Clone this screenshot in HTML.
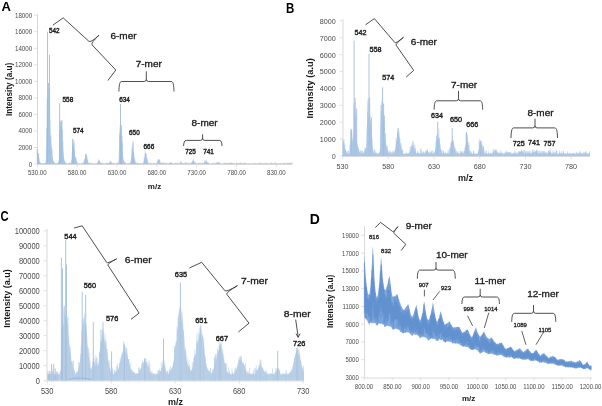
<!DOCTYPE html>
<html><head><meta charset="utf-8"><style>
html,body{margin:0;padding:0;background:#fff;width:602px;height:406px;overflow:hidden;position:relative}
</style></head><body>
<svg width="602" height="406" viewBox="0 0 602 406" style="position:absolute;left:0;top:0;filter:blur(0.35px)">
<g font-family='"Liberation Sans", sans-serif'>
<text x="0" y="0" font-size="13.6" font-weight="bold" fill="#000" transform="translate(1.5,10.6) scale(0.96,1)">A</text>
<text x="0" y="0" font-size="14.2" font-weight="bold" fill="#000" transform="translate(286.1,13.1) scale(0.81,1)">B</text>
<text x="0" y="0" font-size="14.6" font-weight="bold" fill="#000" transform="translate(0.45,221.1) scale(0.77,1)">C</text>
<text x="0" y="0" font-size="14.4" font-weight="bold" fill="#000" transform="translate(309.8,223.6) scale(0.97,1)">D</text>
<path d="M37.5,14.0 V164.0" stroke="#d9d9d9" stroke-width="1"/>
<path d="M37.0,164.5 H292.5" stroke="#d9d9d9" stroke-width="1"/>
<path d="M34.0,164.0 H37.0" stroke="#d9d9d9" stroke-width="0.8"/>
<text x="32.2" y="166.5" font-size="6.94" font-weight="normal" fill="#4a4a4a" text-anchor="end" textLength="3.45" lengthAdjust="spacingAndGlyphs" >0</text>
<path d="M34.0,147.5 H37.0" stroke="#d9d9d9" stroke-width="0.8"/>
<text x="32.2" y="150.0" font-size="6.94" font-weight="normal" fill="#4a4a4a" text-anchor="end" textLength="13.79" lengthAdjust="spacingAndGlyphs" >2000</text>
<path d="M34.0,130.9 H37.0" stroke="#d9d9d9" stroke-width="0.8"/>
<text x="32.2" y="133.4" font-size="6.94" font-weight="normal" fill="#4a4a4a" text-anchor="end" textLength="13.79" lengthAdjust="spacingAndGlyphs" >4000</text>
<path d="M34.0,114.4 H37.0" stroke="#d9d9d9" stroke-width="0.8"/>
<text x="32.2" y="116.9" font-size="6.94" font-weight="normal" fill="#4a4a4a" text-anchor="end" textLength="13.79" lengthAdjust="spacingAndGlyphs" >6000</text>
<path d="M34.0,97.9 H37.0" stroke="#d9d9d9" stroke-width="0.8"/>
<text x="32.2" y="100.4" font-size="6.94" font-weight="normal" fill="#4a4a4a" text-anchor="end" textLength="13.79" lengthAdjust="spacingAndGlyphs" >8000</text>
<path d="M34.0,81.3 H37.0" stroke="#d9d9d9" stroke-width="0.8"/>
<text x="32.2" y="83.8" font-size="6.94" font-weight="normal" fill="#4a4a4a" text-anchor="end" textLength="17.24" lengthAdjust="spacingAndGlyphs" >10000</text>
<path d="M34.0,64.8 H37.0" stroke="#d9d9d9" stroke-width="0.8"/>
<text x="32.2" y="67.3" font-size="6.94" font-weight="normal" fill="#4a4a4a" text-anchor="end" textLength="17.24" lengthAdjust="spacingAndGlyphs" >12000</text>
<path d="M34.0,48.3 H37.0" stroke="#d9d9d9" stroke-width="0.8"/>
<text x="32.2" y="50.8" font-size="6.94" font-weight="normal" fill="#4a4a4a" text-anchor="end" textLength="17.24" lengthAdjust="spacingAndGlyphs" >14000</text>
<path d="M34.0,31.7 H37.0" stroke="#d9d9d9" stroke-width="0.8"/>
<text x="32.2" y="34.2" font-size="6.94" font-weight="normal" fill="#4a4a4a" text-anchor="end" textLength="17.24" lengthAdjust="spacingAndGlyphs" >16000</text>
<path d="M34.0,15.2 H37.0" stroke="#d9d9d9" stroke-width="0.8"/>
<text x="32.2" y="17.7" font-size="6.94" font-weight="normal" fill="#4a4a4a" text-anchor="end" textLength="17.24" lengthAdjust="spacingAndGlyphs" >18000</text>
<path d="M37.3,164.0 V167.0" stroke="#d9d9d9" stroke-width="0.8"/>
<text x="37.3" y="175.2" font-size="6.83" font-weight="normal" fill="#4a4a4a" text-anchor="middle" textLength="18.66" lengthAdjust="spacingAndGlyphs" >530.00</text>
<path d="M77.2,164.0 V167.0" stroke="#d9d9d9" stroke-width="0.8"/>
<text x="77.2" y="175.2" font-size="6.83" font-weight="normal" fill="#4a4a4a" text-anchor="middle" textLength="18.66" lengthAdjust="spacingAndGlyphs" >580.00</text>
<path d="M117.0,164.0 V167.0" stroke="#d9d9d9" stroke-width="0.8"/>
<text x="117.0" y="175.2" font-size="6.83" font-weight="normal" fill="#4a4a4a" text-anchor="middle" textLength="18.66" lengthAdjust="spacingAndGlyphs" >630.00</text>
<path d="M156.9,164.0 V167.0" stroke="#d9d9d9" stroke-width="0.8"/>
<text x="156.9" y="175.2" font-size="6.83" font-weight="normal" fill="#4a4a4a" text-anchor="middle" textLength="18.66" lengthAdjust="spacingAndGlyphs" >680.00</text>
<path d="M196.7,164.0 V167.0" stroke="#d9d9d9" stroke-width="0.8"/>
<text x="196.7" y="175.2" font-size="6.83" font-weight="normal" fill="#4a4a4a" text-anchor="middle" textLength="18.66" lengthAdjust="spacingAndGlyphs" >730.00</text>
<path d="M236.6,164.0 V167.0" stroke="#d9d9d9" stroke-width="0.8"/>
<text x="236.6" y="175.2" font-size="6.83" font-weight="normal" fill="#4a4a4a" text-anchor="middle" textLength="18.66" lengthAdjust="spacingAndGlyphs" >780.00</text>
<path d="M276.4,164.0 V167.0" stroke="#d9d9d9" stroke-width="0.8"/>
<text x="276.4" y="175.2" font-size="6.83" font-weight="normal" fill="#4a4a4a" text-anchor="middle" textLength="18.66" lengthAdjust="spacingAndGlyphs" >830.00</text>
<text x="154.5" y="189.2" font-size="8" font-weight="bold" fill="#1a1a1a" text-anchor="middle" >m/z</text>
<text x="0" y="0" font-size="8.2" font-weight="bold" fill="#1a1a1a" text-anchor="middle" transform="translate(12.0,89.4) rotate(-90)">Intensity (a.u)</text>
<path d="M343.0,19.0 V156.0" stroke="#d9d9d9" stroke-width="1"/>
<path d="M342.5,156.5 H590.0" stroke="#d9d9d9" stroke-width="1"/>
<path d="M339.5,156.0 H342.5" stroke="#d9d9d9" stroke-width="0.8"/>
<text x="335.8" y="158.9" font-size="8.06" font-weight="normal" fill="#4a4a4a" text-anchor="end" textLength="4.00" lengthAdjust="spacingAndGlyphs" >0</text>
<path d="M339.5,139.1 H342.5" stroke="#d9d9d9" stroke-width="0.8"/>
<text x="335.8" y="142.0" font-size="8.06" font-weight="normal" fill="#4a4a4a" text-anchor="end" textLength="16.02" lengthAdjust="spacingAndGlyphs" >1000</text>
<path d="M339.5,122.2 H342.5" stroke="#d9d9d9" stroke-width="0.8"/>
<text x="335.8" y="125.1" font-size="8.06" font-weight="normal" fill="#4a4a4a" text-anchor="end" textLength="16.02" lengthAdjust="spacingAndGlyphs" >2000</text>
<path d="M339.5,105.3 H342.5" stroke="#d9d9d9" stroke-width="0.8"/>
<text x="335.8" y="108.2" font-size="8.06" font-weight="normal" fill="#4a4a4a" text-anchor="end" textLength="16.02" lengthAdjust="spacingAndGlyphs" >3000</text>
<path d="M339.5,88.4 H342.5" stroke="#d9d9d9" stroke-width="0.8"/>
<text x="335.8" y="91.3" font-size="8.06" font-weight="normal" fill="#4a4a4a" text-anchor="end" textLength="16.02" lengthAdjust="spacingAndGlyphs" >4000</text>
<path d="M339.5,71.5 H342.5" stroke="#d9d9d9" stroke-width="0.8"/>
<text x="335.8" y="74.4" font-size="8.06" font-weight="normal" fill="#4a4a4a" text-anchor="end" textLength="16.02" lengthAdjust="spacingAndGlyphs" >5000</text>
<path d="M339.5,54.6 H342.5" stroke="#d9d9d9" stroke-width="0.8"/>
<text x="335.8" y="57.5" font-size="8.06" font-weight="normal" fill="#4a4a4a" text-anchor="end" textLength="16.02" lengthAdjust="spacingAndGlyphs" >6000</text>
<path d="M339.5,37.7 H342.5" stroke="#d9d9d9" stroke-width="0.8"/>
<text x="335.8" y="40.6" font-size="8.06" font-weight="normal" fill="#4a4a4a" text-anchor="end" textLength="16.02" lengthAdjust="spacingAndGlyphs" >7000</text>
<path d="M339.5,20.8 H342.5" stroke="#d9d9d9" stroke-width="0.8"/>
<text x="335.8" y="23.7" font-size="8.06" font-weight="normal" fill="#4a4a4a" text-anchor="end" textLength="16.02" lengthAdjust="spacingAndGlyphs" >8000</text>
<path d="M342.6,156.0 V159.0" stroke="#d9d9d9" stroke-width="0.8"/>
<text x="342.6" y="169.2" font-size="8.06" font-weight="normal" fill="#4a4a4a" text-anchor="middle" textLength="12.01" lengthAdjust="spacingAndGlyphs" >530</text>
<path d="M388.3,156.0 V159.0" stroke="#d9d9d9" stroke-width="0.8"/>
<text x="388.3" y="169.2" font-size="8.06" font-weight="normal" fill="#4a4a4a" text-anchor="middle" textLength="12.01" lengthAdjust="spacingAndGlyphs" >580</text>
<path d="M434.0,156.0 V159.0" stroke="#d9d9d9" stroke-width="0.8"/>
<text x="434.0" y="169.2" font-size="8.06" font-weight="normal" fill="#4a4a4a" text-anchor="middle" textLength="12.01" lengthAdjust="spacingAndGlyphs" >630</text>
<path d="M479.7,156.0 V159.0" stroke="#d9d9d9" stroke-width="0.8"/>
<text x="479.7" y="169.2" font-size="8.06" font-weight="normal" fill="#4a4a4a" text-anchor="middle" textLength="12.01" lengthAdjust="spacingAndGlyphs" >680</text>
<path d="M525.4,156.0 V159.0" stroke="#d9d9d9" stroke-width="0.8"/>
<text x="525.4" y="169.2" font-size="8.06" font-weight="normal" fill="#4a4a4a" text-anchor="middle" textLength="12.01" lengthAdjust="spacingAndGlyphs" >730</text>
<path d="M571.1,156.0 V159.0" stroke="#d9d9d9" stroke-width="0.8"/>
<text x="571.1" y="169.2" font-size="8.06" font-weight="normal" fill="#4a4a4a" text-anchor="middle" textLength="12.01" lengthAdjust="spacingAndGlyphs" >780</text>
<text x="465.5" y="180.5" font-size="9" font-weight="bold" fill="#1a1a1a" text-anchor="middle" >m/z</text>
<text x="0" y="0" font-size="9.3" font-weight="bold" fill="#1a1a1a" text-anchor="middle" transform="translate(313,88.4) rotate(-90)">Intensity (a.u)</text>
<path d="M47.0,229.0 V380.5" stroke="#d9d9d9" stroke-width="1"/>
<path d="M46.5,381.0 H304.0" stroke="#d9d9d9" stroke-width="1"/>
<path d="M43.5,380.5 H46.5" stroke="#d9d9d9" stroke-width="0.8"/>
<text x="39.8" y="383.5" font-size="8.40" font-weight="normal" fill="#4a4a4a" text-anchor="end" textLength="4.17" lengthAdjust="spacingAndGlyphs" >0</text>
<path d="M43.5,365.5 H46.5" stroke="#d9d9d9" stroke-width="0.8"/>
<text x="39.8" y="368.6" font-size="8.40" font-weight="normal" fill="#4a4a4a" text-anchor="end" textLength="20.85" lengthAdjust="spacingAndGlyphs" >10000</text>
<path d="M43.5,350.6 H46.5" stroke="#d9d9d9" stroke-width="0.8"/>
<text x="39.8" y="353.6" font-size="8.40" font-weight="normal" fill="#4a4a4a" text-anchor="end" textLength="20.85" lengthAdjust="spacingAndGlyphs" >20000</text>
<path d="M43.5,335.6 H46.5" stroke="#d9d9d9" stroke-width="0.8"/>
<text x="39.8" y="338.6" font-size="8.40" font-weight="normal" fill="#4a4a4a" text-anchor="end" textLength="20.85" lengthAdjust="spacingAndGlyphs" >30000</text>
<path d="M43.5,320.7 H46.5" stroke="#d9d9d9" stroke-width="0.8"/>
<text x="39.8" y="323.7" font-size="8.40" font-weight="normal" fill="#4a4a4a" text-anchor="end" textLength="20.85" lengthAdjust="spacingAndGlyphs" >40000</text>
<path d="M43.5,305.7 H46.5" stroke="#d9d9d9" stroke-width="0.8"/>
<text x="39.8" y="308.7" font-size="8.40" font-weight="normal" fill="#4a4a4a" text-anchor="end" textLength="20.85" lengthAdjust="spacingAndGlyphs" >50000</text>
<path d="M43.5,290.7 H46.5" stroke="#d9d9d9" stroke-width="0.8"/>
<text x="39.8" y="293.8" font-size="8.40" font-weight="normal" fill="#4a4a4a" text-anchor="end" textLength="20.85" lengthAdjust="spacingAndGlyphs" >60000</text>
<path d="M43.5,275.8 H46.5" stroke="#d9d9d9" stroke-width="0.8"/>
<text x="39.8" y="278.8" font-size="8.40" font-weight="normal" fill="#4a4a4a" text-anchor="end" textLength="20.85" lengthAdjust="spacingAndGlyphs" >70000</text>
<path d="M43.5,260.8 H46.5" stroke="#d9d9d9" stroke-width="0.8"/>
<text x="39.8" y="263.8" font-size="8.40" font-weight="normal" fill="#4a4a4a" text-anchor="end" textLength="20.85" lengthAdjust="spacingAndGlyphs" >80000</text>
<path d="M43.5,245.9 H46.5" stroke="#d9d9d9" stroke-width="0.8"/>
<text x="39.8" y="248.9" font-size="8.40" font-weight="normal" fill="#4a4a4a" text-anchor="end" textLength="20.85" lengthAdjust="spacingAndGlyphs" >90000</text>
<path d="M43.5,230.9 H46.5" stroke="#d9d9d9" stroke-width="0.8"/>
<text x="39.8" y="233.9" font-size="8.40" font-weight="normal" fill="#4a4a4a" text-anchor="end" textLength="25.02" lengthAdjust="spacingAndGlyphs" >100000</text>
<path d="M47.2,380.5 V383.5" stroke="#d9d9d9" stroke-width="0.8"/>
<text x="47.2" y="394.0" font-size="8.40" font-weight="normal" fill="#4a4a4a" text-anchor="middle" textLength="12.51" lengthAdjust="spacingAndGlyphs" >530</text>
<path d="M111.2,380.5 V383.5" stroke="#d9d9d9" stroke-width="0.8"/>
<text x="111.2" y="394.0" font-size="8.40" font-weight="normal" fill="#4a4a4a" text-anchor="middle" textLength="12.51" lengthAdjust="spacingAndGlyphs" >580</text>
<path d="M175.2,380.5 V383.5" stroke="#d9d9d9" stroke-width="0.8"/>
<text x="175.2" y="394.0" font-size="8.40" font-weight="normal" fill="#4a4a4a" text-anchor="middle" textLength="12.51" lengthAdjust="spacingAndGlyphs" >630</text>
<path d="M239.2,380.5 V383.5" stroke="#d9d9d9" stroke-width="0.8"/>
<text x="239.2" y="394.0" font-size="8.40" font-weight="normal" fill="#4a4a4a" text-anchor="middle" textLength="12.51" lengthAdjust="spacingAndGlyphs" >680</text>
<path d="M303.2,380.5 V383.5" stroke="#d9d9d9" stroke-width="0.8"/>
<text x="303.2" y="394.0" font-size="8.40" font-weight="normal" fill="#4a4a4a" text-anchor="middle" textLength="12.51" lengthAdjust="spacingAndGlyphs" >730</text>
<text x="175.4" y="405.2" font-size="9" font-weight="bold" fill="#1a1a1a" text-anchor="middle" >m/z</text>
<text x="0" y="0" font-size="9.0" font-weight="bold" fill="#1a1a1a" text-anchor="middle" transform="translate(10.2,298.5) rotate(-90)">Intensity (a.u)</text>
<path d="M364.5,226.0 V377.5" stroke="#d9d9d9" stroke-width="1"/>
<path d="M364.0,378.0 H592.0" stroke="#d9d9d9" stroke-width="1"/>
<path d="M361.0,377.5 H364.0" stroke="#d9d9d9" stroke-width="0.8"/>
<text x="358.8" y="379.9" font-size="6.72" font-weight="normal" fill="#4a4a4a" text-anchor="end" textLength="13.35" lengthAdjust="spacingAndGlyphs" >3000</text>
<path d="M361.0,359.7 H364.0" stroke="#d9d9d9" stroke-width="0.8"/>
<text x="358.8" y="362.2" font-size="6.72" font-weight="normal" fill="#4a4a4a" text-anchor="end" textLength="13.35" lengthAdjust="spacingAndGlyphs" >5000</text>
<path d="M361.0,342.0 H364.0" stroke="#d9d9d9" stroke-width="0.8"/>
<text x="358.8" y="344.4" font-size="6.72" font-weight="normal" fill="#4a4a4a" text-anchor="end" textLength="13.35" lengthAdjust="spacingAndGlyphs" >7000</text>
<path d="M361.0,324.2 H364.0" stroke="#d9d9d9" stroke-width="0.8"/>
<text x="358.8" y="326.6" font-size="6.72" font-weight="normal" fill="#4a4a4a" text-anchor="end" textLength="13.35" lengthAdjust="spacingAndGlyphs" >9000</text>
<path d="M361.0,306.4 H364.0" stroke="#d9d9d9" stroke-width="0.8"/>
<text x="358.8" y="308.9" font-size="6.72" font-weight="normal" fill="#4a4a4a" text-anchor="end" textLength="16.24" lengthAdjust="spacingAndGlyphs" >11000</text>
<path d="M361.0,288.7 H364.0" stroke="#d9d9d9" stroke-width="0.8"/>
<text x="358.8" y="291.1" font-size="6.72" font-weight="normal" fill="#4a4a4a" text-anchor="end" textLength="16.68" lengthAdjust="spacingAndGlyphs" >13000</text>
<path d="M361.0,270.9 H364.0" stroke="#d9d9d9" stroke-width="0.8"/>
<text x="358.8" y="273.3" font-size="6.72" font-weight="normal" fill="#4a4a4a" text-anchor="end" textLength="16.68" lengthAdjust="spacingAndGlyphs" >15000</text>
<path d="M361.0,253.2 H364.0" stroke="#d9d9d9" stroke-width="0.8"/>
<text x="358.8" y="255.6" font-size="6.72" font-weight="normal" fill="#4a4a4a" text-anchor="end" textLength="16.68" lengthAdjust="spacingAndGlyphs" >17000</text>
<path d="M361.0,235.4 H364.0" stroke="#d9d9d9" stroke-width="0.8"/>
<text x="358.8" y="237.8" font-size="6.72" font-weight="normal" fill="#4a4a4a" text-anchor="end" textLength="16.68" lengthAdjust="spacingAndGlyphs" >19000</text>
<path d="M364.0,377.5 V380.5" stroke="#d9d9d9" stroke-width="0.8"/>
<text x="364.0" y="388.6" font-size="6.72" font-weight="normal" fill="#4a4a4a" text-anchor="middle" textLength="18.35" lengthAdjust="spacingAndGlyphs" >800.00</text>
<path d="M392.3,377.5 V380.5" stroke="#d9d9d9" stroke-width="0.8"/>
<text x="392.3" y="388.6" font-size="6.72" font-weight="normal" fill="#4a4a4a" text-anchor="middle" textLength="18.35" lengthAdjust="spacingAndGlyphs" >850.00</text>
<path d="M420.6,377.5 V380.5" stroke="#d9d9d9" stroke-width="0.8"/>
<text x="420.6" y="388.6" font-size="6.72" font-weight="normal" fill="#4a4a4a" text-anchor="middle" textLength="18.35" lengthAdjust="spacingAndGlyphs" >900.00</text>
<path d="M448.9,377.5 V380.5" stroke="#d9d9d9" stroke-width="0.8"/>
<text x="448.9" y="388.6" font-size="6.72" font-weight="normal" fill="#4a4a4a" text-anchor="middle" textLength="18.35" lengthAdjust="spacingAndGlyphs" >950.00</text>
<path d="M477.3,377.5 V380.5" stroke="#d9d9d9" stroke-width="0.8"/>
<text x="477.3" y="388.6" font-size="6.72" font-weight="normal" fill="#4a4a4a" text-anchor="middle" textLength="21.69" lengthAdjust="spacingAndGlyphs" >1000.00</text>
<path d="M505.6,377.5 V380.5" stroke="#d9d9d9" stroke-width="0.8"/>
<text x="505.6" y="388.6" font-size="6.72" font-weight="normal" fill="#4a4a4a" text-anchor="middle" textLength="21.69" lengthAdjust="spacingAndGlyphs" >1050.00</text>
<path d="M533.9,377.5 V380.5" stroke="#d9d9d9" stroke-width="0.8"/>
<text x="533.9" y="388.6" font-size="6.72" font-weight="normal" fill="#4a4a4a" text-anchor="middle" textLength="21.24" lengthAdjust="spacingAndGlyphs" >1100.00</text>
<path d="M562.2,377.5 V380.5" stroke="#d9d9d9" stroke-width="0.8"/>
<text x="562.2" y="388.6" font-size="6.72" font-weight="normal" fill="#4a4a4a" text-anchor="middle" textLength="21.24" lengthAdjust="spacingAndGlyphs" >1150.00</text>
<path d="M590.5,377.5 V380.5" stroke="#d9d9d9" stroke-width="0.8"/>
<text x="590.5" y="388.6" font-size="6.72" font-weight="normal" fill="#4a4a4a" text-anchor="middle" textLength="21.69" lengthAdjust="spacingAndGlyphs" >1200.00</text>
<text x="468.6" y="400.5" font-size="8" font-weight="bold" fill="#1a1a1a" text-anchor="middle" >m/z</text>
<text x="0" y="0" font-size="8.2" font-weight="bold" fill="#1a1a1a" text-anchor="middle" transform="translate(333.3,301.4) rotate(-90)">Intensity (a.u)</text>
<path d="M37.20,164.00 L37.20,153.24 L37.40,152.34 L37.60,148.98 L37.80,152.39 L38.00,156.25 L38.20,156.22 L38.40,157.27 L38.60,159.13 L38.80,158.62 L39.00,160.60 L39.20,160.68 L39.40,161.03 L39.60,161.58 L39.80,161.80 L40.00,162.02 L40.20,162.17 L40.40,162.84 L40.60,162.84 L40.80,163.00 L41.00,163.29 L41.20,163.49 L41.40,163.30 L41.60,163.47 L41.80,163.47 L42.00,163.32 L42.20,163.40 L42.40,163.43 L42.60,163.35 L42.80,163.54 L43.00,163.37 L43.20,163.45 L43.40,163.53 L43.60,163.38 L43.80,163.31 L44.00,163.50 L44.20,163.39 L44.40,163.47 L44.60,163.36 L44.80,163.36 L45.00,163.49 L45.20,163.28 L45.40,163.11 L45.60,162.83 L45.80,162.40 L46.00,162.27 L46.20,161.49 L46.40,150.62 L46.60,135.83 L46.80,97.82 L47.00,98.66 L47.20,96.01 L47.40,106.31 L47.60,89.26 L47.80,101.81 L48.00,83.93 L48.20,102.32 L48.40,93.48 L48.60,98.48 L48.80,91.90 L49.00,104.75 L49.20,105.26 L49.40,87.76 L49.60,87.60 L49.80,93.32 L50.00,90.97 L50.20,121.35 L50.40,118.42 L50.60,137.17 L50.80,132.87 L51.00,140.99 L51.20,144.66 L51.40,145.07 L51.60,149.07 L51.80,150.69 L52.00,155.59 L52.20,155.25 L52.40,157.41 L52.60,157.97 L52.80,158.81 L53.00,158.17 L53.20,160.52 L53.40,160.88 L53.60,161.21 L53.80,161.40 L54.00,161.84 L54.20,162.34 L54.40,162.88 L54.60,162.89 L54.80,163.00 L55.00,163.38 L55.20,163.29 L55.40,163.46 L55.60,163.40 L55.80,163.38 L56.00,163.38 L56.20,163.42 L56.40,163.41 L56.60,163.50 L56.80,163.42 L57.00,163.52 L57.20,163.43 L57.40,163.41 L57.60,163.16 L57.80,163.05 L58.00,162.98 L58.20,162.29 L58.40,162.13 L58.60,161.01 L58.80,160.83 L59.00,150.23 L59.20,129.54 L59.40,129.38 L59.60,130.10 L59.80,130.11 L60.00,127.94 L60.20,134.28 L60.40,126.86 L60.60,120.73 L60.80,126.60 L61.00,123.63 L61.20,120.31 L61.40,122.03 L61.60,123.63 L61.80,122.50 L62.00,122.39 L62.20,131.66 L62.40,132.16 L62.60,140.77 L62.80,146.62 L63.00,144.37 L63.20,150.02 L63.40,151.16 L63.60,153.88 L63.80,157.57 L64.00,157.90 L64.20,159.24 L64.40,159.61 L64.60,161.38 L64.80,161.81 L65.00,161.93 L65.20,162.42 L65.40,162.58 L65.60,163.02 L65.80,163.27 L66.00,163.19 L66.20,163.49 L66.40,163.51 L66.60,163.48 L66.80,163.46 L67.00,163.49 L67.20,163.41 L67.40,163.31 L67.60,163.52 L67.80,163.44 L68.00,163.38 L68.20,163.32 L68.40,163.29 L68.60,163.51 L68.80,163.41 L69.00,163.32 L69.20,163.54 L69.40,163.40 L69.60,163.51 L69.80,163.35 L70.00,163.31 L70.20,163.41 L70.40,163.47 L70.60,163.27 L70.80,162.85 L71.00,162.21 L71.20,162.27 L71.40,161.36 L71.60,159.45 L71.80,155.50 L72.00,148.43 L72.20,146.63 L72.40,146.08 L72.60,142.72 L72.80,145.03 L73.00,142.56 L73.20,144.85 L73.40,147.90 L73.60,145.47 L73.80,141.80 L74.00,144.43 L74.20,141.01 L74.40,149.25 L74.60,150.26 L74.80,151.07 L75.00,154.27 L75.20,156.43 L75.40,156.90 L75.60,157.16 L75.80,158.50 L76.00,159.57 L76.20,160.25 L76.40,160.76 L76.60,161.74 L76.80,161.89 L77.00,162.38 L77.20,162.65 L77.40,163.10 L77.60,163.46 L77.80,163.41 L78.00,163.33 L78.20,163.38 L78.40,163.38 L78.60,163.45 L78.80,163.46 L79.00,163.36 L79.20,163.53 L79.40,163.33 L79.60,163.32 L79.80,163.30 L80.00,163.52 L80.20,163.52 L80.40,163.32 L80.60,163.45 L80.80,163.48 L81.00,163.45 L81.20,163.38 L81.40,163.51 L81.60,163.42 L81.80,163.38 L82.00,163.36 L82.20,163.55 L82.40,163.34 L82.60,163.44 L82.80,163.44 L83.00,163.41 L83.20,163.48 L83.40,163.02 L83.60,162.97 L83.80,162.34 L84.00,162.15 L84.20,161.02 L84.40,159.77 L84.60,158.84 L84.80,159.59 L85.00,157.51 L85.20,155.82 L85.40,157.37 L85.60,156.10 L85.80,154.62 L86.00,154.39 L86.20,155.60 L86.40,155.14 L86.60,155.46 L86.80,157.09 L87.00,156.78 L87.20,157.73 L87.40,158.21 L87.60,159.40 L87.80,160.42 L88.00,160.90 L88.20,160.92 L88.40,162.23 L88.60,162.65 L88.80,163.05 L89.00,162.94 L89.20,163.18 L89.40,163.49 L89.60,163.48 L89.80,163.50 L90.00,163.40 L90.20,163.43 L90.40,163.34 L90.60,163.50 L90.80,163.32 L91.00,163.43 L91.20,163.34 L91.40,163.34 L91.60,163.31 L91.80,163.42 L92.00,163.39 L92.20,163.41 L92.40,163.50 L92.60,163.42 L92.80,163.31 L93.00,163.31 L93.20,163.55 L93.40,163.38 L93.60,163.47 L93.80,163.52 L94.00,163.52 L94.20,163.34 L94.40,163.30 L94.60,163.42 L94.80,163.45 L95.00,163.42 L95.20,163.34 L95.40,163.36 L95.60,163.53 L95.80,163.50 L96.00,163.33 L96.20,163.42 L96.40,163.38 L96.60,163.35 L96.80,163.23 L97.00,162.92 L97.20,162.70 L97.40,162.58 L97.60,162.30 L97.80,161.13 L98.00,161.89 L98.20,160.72 L98.40,160.18 L98.60,160.99 L98.80,161.23 L99.00,160.73 L99.20,160.95 L99.40,160.95 L99.60,161.24 L99.80,160.94 L100.00,162.16 L100.20,161.73 L100.40,162.75 L100.60,162.47 L100.80,163.07 L101.00,163.14 L101.20,163.54 L101.40,163.44 L101.60,163.38 L101.80,163.39 L102.00,163.34 L102.20,163.51 L102.40,163.45 L102.60,163.39 L102.80,163.54 L103.00,163.33 L103.20,163.44 L103.40,163.49 L103.60,163.49 L103.80,163.38 L104.00,163.54 L104.20,163.49 L104.40,163.47 L104.60,163.48 L104.80,163.36 L105.00,163.40 L105.20,163.32 L105.40,163.37 L105.60,163.47 L105.80,163.47 L106.00,163.52 L106.20,163.49 L106.40,163.39 L106.60,163.36 L106.80,163.47 L107.00,163.46 L107.20,163.34 L107.40,163.30 L107.60,163.53 L107.80,163.53 L108.00,163.35 L108.20,163.42 L108.40,163.44 L108.60,163.39 L108.80,163.35 L109.00,163.53 L109.20,163.22 L109.40,162.79 L109.60,162.62 L109.80,162.12 L110.00,161.91 L110.20,161.28 L110.40,161.63 L110.60,161.31 L110.80,161.11 L111.00,161.87 L111.20,161.99 L111.40,162.83 L111.60,162.82 L111.80,163.42 L112.00,163.50 L112.20,163.36 L112.40,163.47 L112.60,163.52 L112.80,163.53 L113.00,163.34 L113.20,163.55 L113.40,163.54 L113.60,163.31 L113.80,163.35 L114.00,163.46 L114.20,163.50 L114.40,163.33 L114.60,163.35 L114.80,163.38 L115.00,163.41 L115.20,163.41 L115.40,163.30 L115.60,163.42 L115.80,163.53 L116.00,163.53 L116.20,163.40 L116.40,163.36 L116.60,163.39 L116.80,163.36 L117.00,163.47 L117.20,163.45 L117.40,163.48 L117.60,163.45 L117.80,163.48 L118.00,163.19 L118.20,163.19 L118.40,162.89 L118.60,162.16 L118.80,154.54 L119.00,145.58 L119.20,127.89 L119.40,123.13 L119.60,133.67 L119.80,134.66 L120.00,129.40 L120.20,128.12 L120.40,131.67 L120.60,127.85 L120.80,126.50 L121.00,124.36 L121.20,133.31 L121.40,127.01 L121.60,136.18 L121.80,136.08 L122.00,139.49 L122.20,144.26 L122.40,143.06 L122.60,150.30 L122.80,151.20 L123.00,154.22 L123.20,157.24 L123.40,159.17 L123.60,159.95 L123.80,159.73 L124.00,161.34 L124.20,161.85 L124.40,162.45 L124.60,162.50 L124.80,162.85 L125.00,163.22 L125.20,163.36 L125.40,163.45 L125.60,163.40 L125.80,163.40 L126.00,163.40 L126.20,163.32 L126.40,163.30 L126.60,163.54 L126.80,163.45 L127.00,163.54 L127.20,163.45 L127.40,163.34 L127.60,163.37 L127.80,163.40 L128.00,163.53 L128.20,163.34 L128.40,163.39 L128.60,163.47 L128.80,163.35 L129.00,163.54 L129.20,163.50 L129.40,163.35 L129.60,163.54 L129.80,163.49 L130.00,163.17 L130.20,162.79 L130.40,162.49 L130.60,162.53 L130.80,161.84 L131.00,158.74 L131.20,157.28 L131.40,155.70 L131.60,154.67 L131.80,152.19 L132.00,148.21 L132.20,153.45 L132.40,150.46 L132.60,148.33 L132.80,149.58 L133.00,152.08 L133.20,149.89 L133.40,153.04 L133.60,150.78 L133.80,152.18 L134.00,151.96 L134.20,154.66 L134.40,157.02 L134.60,159.41 L134.80,159.44 L135.00,159.82 L135.20,161.28 L135.40,161.58 L135.60,162.35 L135.80,162.72 L136.00,162.66 L136.20,163.24 L136.40,163.25 L136.60,163.52 L136.80,163.38 L137.00,163.36 L137.20,163.31 L137.40,163.45 L137.60,163.45 L137.80,163.45 L138.00,163.37 L138.20,163.35 L138.40,163.52 L138.60,163.47 L138.80,163.54 L139.00,163.49 L139.20,163.36 L139.40,163.31 L139.60,163.30 L139.80,163.53 L140.00,163.45 L140.20,163.32 L140.40,163.42 L140.60,163.46 L140.80,163.35 L141.00,163.33 L141.20,163.51 L141.40,163.42 L141.60,163.51 L141.80,163.50 L142.00,163.41 L142.20,163.49 L142.40,163.34 L142.60,163.46 L142.80,163.50 L143.00,163.16 L143.20,162.97 L143.40,162.69 L143.60,161.28 L143.80,161.48 L144.00,160.85 L144.20,159.34 L144.40,159.60 L144.60,156.51 L144.80,157.93 L145.00,157.46 L145.20,153.38 L145.40,154.87 L145.60,153.18 L145.80,153.55 L146.00,154.62 L146.20,157.74 L146.40,156.26 L146.60,158.77 L146.80,159.56 L147.00,158.37 L147.20,160.27 L147.40,160.28 L147.60,161.28 L147.80,161.63 L148.00,162.29 L148.20,162.54 L148.40,163.12 L148.60,163.26 L148.80,163.34 L149.00,163.40 L149.20,163.42 L149.40,163.44 L149.60,163.38 L149.80,163.50 L150.00,163.44 L150.20,163.38 L150.40,163.47 L150.60,163.50 L150.80,163.52 L151.00,163.34 L151.20,163.32 L151.40,163.33 L151.60,163.37 L151.80,163.39 L152.00,163.54 L152.20,163.32 L152.40,163.43 L152.60,163.37 L152.80,163.52 L153.00,163.36 L153.20,163.51 L153.40,163.30 L153.60,163.37 L153.80,163.41 L154.00,163.38 L154.20,163.49 L154.40,163.42 L154.60,163.53 L154.80,163.48 L155.00,163.48 L155.20,163.51 L155.40,163.44 L155.60,163.54 L155.80,163.54 L156.00,163.46 L156.20,163.06 L156.40,162.84 L156.60,162.66 L156.80,162.46 L157.00,162.16 L157.20,161.42 L157.40,160.65 L157.60,159.93 L157.80,160.17 L158.00,159.19 L158.20,159.12 L158.40,159.04 L158.60,160.12 L158.80,160.05 L159.00,160.82 L159.20,160.43 L159.40,161.56 L159.60,161.35 L159.80,162.04 L160.00,162.09 L160.20,162.65 L160.40,163.02 L160.60,163.04 L160.80,163.26 L161.00,163.41 L161.20,163.52 L161.40,163.42 L161.60,163.47 L161.80,163.53 L162.00,163.44 L162.20,163.38 L162.40,163.47 L162.60,163.37 L162.80,163.35 L163.00,163.55 L163.20,163.50 L163.40,163.48 L163.60,163.40 L163.80,163.42 L164.00,163.40 L164.20,163.53 L164.40,163.48 L164.60,163.51 L164.80,163.36 L165.00,163.37 L165.20,163.47 L165.40,163.32 L165.60,163.52 L165.80,163.55 L166.00,163.45 L166.20,163.38 L166.40,163.31 L166.60,163.42 L166.80,163.52 L167.00,163.40 L167.20,163.55 L167.40,163.34 L167.60,163.47 L167.80,163.53 L168.00,163.51 L168.20,163.34 L168.40,163.32 L168.60,163.50 L168.80,163.29 L169.00,163.33 L169.20,163.36 L169.40,163.30 L169.60,163.11 L169.80,162.79 L170.00,162.78 L170.20,162.68 L170.40,162.54 L170.60,162.07 L170.80,162.70 L171.00,162.11 L171.20,162.52 L171.40,162.44 L171.60,162.71 L171.80,162.62 L172.00,163.13 L172.20,163.22 L172.40,163.26 L172.60,163.39 L172.80,163.47 L173.00,163.47 L173.20,163.53 L173.40,163.42 L173.60,163.34 L173.80,163.33 L174.00,163.44 L174.20,163.30 L174.40,163.30 L174.60,163.47 L174.80,163.52 L175.00,163.33 L175.20,163.31 L175.40,163.38 L175.60,163.30 L175.80,163.43 L176.00,163.42 L176.20,163.53 L176.40,163.46 L176.60,163.31 L176.80,163.52 L177.00,163.52 L177.20,163.54 L177.40,163.42 L177.60,163.39 L177.80,163.41 L178.00,163.32 L178.20,163.37 L178.40,163.39 L178.60,163.39 L178.80,163.42 L179.00,163.53 L179.20,163.53 L179.40,163.38 L179.60,163.50 L179.80,163.44 L180.00,163.38 L180.20,163.40 L180.40,163.27 L180.60,162.52 L180.80,161.92 L181.00,160.45 L181.20,161.27 L181.40,162.62 L181.60,163.26 L181.80,163.51 L182.00,163.39 L182.20,163.47 L182.40,163.33 L182.60,163.48 L182.80,163.38 L183.00,163.39 L183.20,163.31 L183.40,163.36 L183.60,163.31 L183.80,163.40 L184.00,163.55 L184.20,163.47 L184.40,163.36 L184.60,163.46 L184.80,163.38 L185.00,163.52 L185.20,163.38 L185.40,163.45 L185.60,163.31 L185.80,163.53 L186.00,163.46 L186.20,163.35 L186.40,163.45 L186.60,163.43 L186.80,163.46 L187.00,163.53 L187.20,163.47 L187.40,163.32 L187.60,163.35 L187.80,163.47 L188.00,163.38 L188.20,163.34 L188.40,163.34 L188.60,163.54 L188.80,163.51 L189.00,163.30 L189.20,163.48 L189.40,163.35 L189.60,163.39 L189.80,163.32 L190.00,163.53 L190.20,163.31 L190.40,163.32 L190.60,163.49 L190.80,163.37 L191.00,163.55 L191.20,163.30 L191.40,163.19 L191.60,162.74 L191.80,162.31 L192.00,162.52 L192.20,161.33 L192.40,161.80 L192.60,161.44 L192.80,160.75 L193.00,160.90 L193.20,160.21 L193.40,160.97 L193.60,160.40 L193.80,160.37 L194.00,160.34 L194.20,161.36 L194.40,161.76 L194.60,161.75 L194.80,162.00 L195.00,162.12 L195.20,162.64 L195.40,162.97 L195.60,163.23 L195.80,163.28 L196.00,163.39 L196.20,163.53 L196.40,163.47 L196.60,163.51 L196.80,163.42 L197.00,163.45 L197.20,163.51 L197.40,163.41 L197.60,163.38 L197.80,163.46 L198.00,163.33 L198.20,163.53 L198.40,163.54 L198.60,163.37 L198.80,163.40 L199.00,163.36 L199.20,163.31 L199.40,163.42 L199.60,163.34 L199.80,163.38 L200.00,163.42 L200.20,163.42 L200.40,163.29 L200.60,163.46 L200.80,163.44 L201.00,163.43 L201.20,163.38 L201.40,163.54 L201.60,163.38 L201.80,163.54 L202.00,163.45 L202.20,163.44 L202.40,163.40 L202.60,163.40 L202.80,163.39 L203.00,163.55 L203.20,163.47 L203.40,163.36 L203.60,163.44 L203.80,163.34 L204.00,163.22 L204.20,162.93 L204.40,162.54 L204.60,161.93 L204.80,162.39 L205.00,161.99 L205.20,161.76 L205.40,161.39 L205.60,161.52 L205.80,160.07 L206.00,161.31 L206.20,160.94 L206.40,160.55 L206.60,161.28 L206.80,161.78 L207.00,161.96 L207.20,162.09 L207.40,162.45 L207.60,162.58 L207.80,162.86 L208.00,163.22 L208.20,163.11 L208.40,163.28 L208.60,163.41 L208.80,163.53 L209.00,163.31 L209.20,163.46 L209.40,163.45 L209.60,163.49 L209.80,163.31 L210.00,163.37 L210.20,163.47 L210.40,163.46 L210.60,163.44 L210.80,163.45 L211.00,163.38 L211.20,163.30 L211.40,163.54 L211.60,163.33 L211.80,163.33 L212.00,163.49 L212.20,163.30 L212.40,163.32 L212.60,163.36 L212.80,163.52 L213.00,163.44 L213.20,163.35 L213.40,163.41 L213.60,163.54 L213.80,163.35 L214.00,163.44 L214.20,163.49 L214.40,163.46 L214.60,163.52 L214.80,163.46 L215.00,163.55 L215.20,163.29 L215.40,163.52 L215.60,163.46 L215.80,163.47 L216.00,163.43 L216.20,163.46 L216.40,163.29 L216.60,163.33 L216.80,162.82 L217.00,162.90 L217.20,162.38 L217.40,162.63 L217.60,162.71 L217.80,162.11 L218.00,162.60 L218.20,162.20 L218.40,162.16 L218.60,162.70 L218.80,162.72 L219.00,162.68 L219.20,162.64 L219.40,162.80 L219.60,163.10 L219.80,163.19 L220.00,163.24 L220.20,163.51 L220.40,163.31 L220.60,163.33 L220.80,163.49 L221.00,163.39 L221.20,163.36 L221.40,163.38 L221.60,163.53 L221.80,163.54 L222.00,163.49 L222.20,163.52 L222.40,163.43 L222.60,163.36 L222.80,163.40 L223.00,163.32 L223.20,163.42 L223.40,163.43 L223.60,163.52 L223.80,163.30 L224.00,163.38 L224.20,163.30 L224.40,163.31 L224.60,163.53 L224.80,163.39 L225.00,163.42 L225.20,163.36 L225.40,163.54 L225.60,163.38 L225.80,163.39 L226.00,163.45 L226.20,163.52 L226.40,163.37 L226.60,163.54 L226.80,163.46 L227.00,163.54 L227.20,163.47 L227.40,163.49 L227.60,163.39 L227.80,163.37 L228.00,163.37 L228.20,163.44 L228.40,163.36 L228.60,163.38 L228.80,163.41 L229.00,163.35 L229.20,163.21 L229.40,163.25 L229.60,162.96 L229.80,162.98 L230.00,163.00 L230.20,162.88 L230.40,162.73 L230.60,162.87 L230.80,162.52 L231.00,162.83 L231.20,162.73 L231.40,162.66 L231.60,162.75 L231.80,162.91 L232.00,162.99 L232.20,163.08 L232.40,163.24 L232.60,163.38 L232.80,163.32 L233.00,163.51 L233.20,163.52 L233.40,163.47 L233.60,163.49 L233.80,163.30 L234.00,163.41 L234.20,163.32 L234.40,163.41 L234.60,163.49 L234.80,163.32 L235.00,163.32 L235.20,163.52 L235.40,163.35 L235.60,163.40 L235.80,163.50 L236.00,163.46 L236.20,163.36 L236.40,163.50 L236.60,163.39 L236.80,163.41 L237.00,163.41 L237.20,163.50 L237.40,163.34 L237.60,163.41 L237.80,163.37 L238.00,163.39 L238.20,163.47 L238.40,163.36 L238.60,163.45 L238.80,163.31 L239.00,163.43 L239.20,163.50 L239.40,163.43 L239.60,163.45 L239.80,163.30 L240.00,163.47 L240.20,163.32 L240.40,163.54 L240.60,163.52 L240.80,163.47 L241.00,163.36 L241.20,163.39 L241.40,163.44 L241.60,163.44 L241.80,163.33 L242.00,163.47 L242.20,163.28 L242.40,163.38 L242.60,163.28 L242.80,163.25 L243.00,163.38 L243.20,163.47 L243.40,163.49 L243.60,163.49 L243.80,163.53 L244.00,163.44 L244.20,163.38 L244.40,163.45 L244.60,163.30 L244.80,163.31 L245.00,163.35 L245.20,163.34 L245.40,163.47 L245.60,163.35 L245.80,163.54 L246.00,163.55 L246.20,163.53 L246.40,163.47 L246.60,163.36 L246.80,163.54 L247.00,163.45 L247.20,163.40 L247.40,163.33 L247.60,163.40 L247.80,163.49 L248.00,163.53 L248.20,163.42 L248.40,163.34 L248.60,163.33 L248.80,163.39 L249.00,163.50 L249.20,163.53 L249.40,163.54 L249.60,163.48 L249.80,163.41 L250.00,163.51 L250.20,163.39 L250.40,163.47 L250.60,163.35 L250.80,163.41 L251.00,163.35 L251.20,163.48 L251.40,163.40 L251.60,163.32 L251.80,163.55 L252.00,163.31 L252.20,163.40 L252.40,163.29 L252.60,163.48 L252.80,163.42 L253.00,163.37 L253.20,163.40 L253.40,163.39 L253.60,163.33 L253.80,163.51 L254.00,163.36 L254.20,163.44 L254.40,163.31 L254.60,163.30 L254.80,163.44 L255.00,163.46 L255.20,163.32 L255.40,163.31 L255.60,163.35 L255.80,163.32 L256.00,163.30 L256.20,163.43 L256.40,163.46 L256.60,163.54 L256.80,163.44 L257.00,163.49 L257.20,163.36 L257.40,163.39 L257.60,163.31 L257.80,163.37 L258.00,163.49 L258.20,163.45 L258.40,163.42 L258.60,163.41 L258.80,163.31 L259.00,163.39 L259.20,163.47 L259.40,163.48 L259.60,163.40 L259.80,163.53 L260.00,163.43 L260.20,163.32 L260.40,163.31 L260.60,163.41 L260.80,163.41 L261.00,163.47 L261.20,163.40 L261.40,163.43 L261.60,163.38 L261.80,163.30 L262.00,163.35 L262.20,163.52 L262.40,163.51 L262.60,163.37 L262.80,163.30 L263.00,163.40 L263.20,163.33 L263.40,163.48 L263.60,163.49 L263.80,163.30 L264.00,163.32 L264.20,163.43 L264.40,163.34 L264.60,163.38 L264.80,163.35 L265.00,163.40 L265.20,163.37 L265.40,163.31 L265.60,163.44 L265.80,163.36 L266.00,163.30 L266.20,163.54 L266.40,163.49 L266.60,163.46 L266.80,163.40 L267.00,163.43 L267.20,163.31 L267.40,163.50 L267.60,163.47 L267.80,163.53 L268.00,163.51 L268.20,163.40 L268.40,163.54 L268.60,163.31 L268.80,163.35 L269.00,163.53 L269.20,163.35 L269.40,163.52 L269.60,163.42 L269.80,163.50 L270.00,163.51 L270.20,163.41 L270.40,163.32 L270.60,163.53 L270.80,163.50 L271.00,163.43 L271.20,163.30 L271.40,163.46 L271.60,163.33 L271.80,163.41 L272.00,163.43 L272.20,163.35 L272.40,163.50 L272.60,163.41 L272.80,163.54 L273.00,163.42 L273.20,163.29 L273.40,163.53 L273.60,163.53 L273.80,163.40 L274.00,163.31 L274.20,163.41 L274.40,163.30 L274.60,163.47 L274.80,163.29 L275.00,163.50 L275.20,163.35 L275.40,163.46 L275.60,163.33 L275.80,163.54 L276.00,163.47 L276.20,163.31 L276.40,163.35 L276.60,163.43 L276.80,163.45 L277.00,163.31 L277.20,163.50 L277.40,163.50 L277.60,163.54 L277.80,163.38 L278.00,163.31 L278.20,163.52 L278.40,163.35 L278.60,163.35 L278.80,163.50 L279.00,163.42 L279.20,163.40 L279.40,163.54 L279.60,163.31 L279.80,163.52 L280.00,163.51 L280.20,163.37 L280.40,163.42 L280.60,163.35 L280.80,163.38 L281.00,163.53 L281.20,163.43 L281.40,163.30 L281.60,163.47 L281.80,163.50 L282.00,163.32 L282.20,163.53 L282.40,163.45 L282.60,163.29 L282.80,163.33 L283.00,163.52 L283.20,163.53 L283.40,163.43 L283.60,163.37 L283.80,163.34 L284.00,163.50 L284.20,163.44 L284.40,163.43 L284.60,163.47 L284.80,163.37 L285.00,163.41 L285.20,163.44 L285.40,163.35 L285.60,163.47 L285.80,163.39 L286.00,163.35 L286.20,163.46 L286.40,163.54 L286.60,163.55 L286.80,163.35 L287.00,163.34 L287.20,163.37 L287.40,163.55 L287.60,163.48 L287.80,163.30 L288.00,163.41 L288.20,163.44 L288.40,163.30 L288.60,163.30 L288.80,163.49 L289.00,163.36 L289.20,163.34 L289.40,163.33 L289.60,163.31 L289.80,163.36 L290.00,163.53 L290.20,163.47 L290.40,163.50 L290.60,163.39 L290.80,163.41 L291.00,163.30 L291.20,163.49 L291.40,163.52 L291.60,163.54 L291.80,163.50 L292.00,163.32 L292.20,163.39 L292.40,163.49 L292.40,164.00 Z" fill="#aac7e6" fill-opacity="1.0" stroke="none"/>
<path d="M37.30,164.0 V149.12 M38.60,164.0 V153.25 M47.55,164.0 V31.73 M49.50,164.0 V54.88 M48.40,164.0 V82.99 M59.60,164.0 V103.24 M61.90,164.0 V120.19 M60.80,164.0 V122.67 M72.60,164.0 V138.79 M73.90,164.0 V140.44 M86.00,164.0 V154.49 M120.50,164.0 V103.82 M121.30,164.0 V125.15 M133.10,164.0 V141.68 M132.20,164.0 V147.47 M145.50,164.0 V153.42" stroke="#a2bbd9" stroke-width="0.9" fill="none"/>
<path d="M342.80,156.00 L342.80,138.47 L343.00,138.45 L343.20,140.67 L343.40,142.42 L343.60,144.76 L343.80,143.67 L344.00,144.70 L344.20,147.72 L344.40,148.49 L344.60,145.03 L344.80,147.45 L345.00,149.77 L345.20,149.71 L345.40,148.72 L345.60,149.62 L345.80,150.36 L346.00,151.88 L346.20,152.07 L346.40,152.12 L346.60,153.48 L346.80,153.00 L347.00,153.66 L347.20,152.98 L347.40,154.02 L347.60,153.24 L347.80,153.00 L348.00,153.81 L348.20,152.96 L348.40,152.99 L348.60,154.08 L348.80,153.20 L349.00,154.10 L349.20,153.46 L349.40,153.40 L349.60,153.52 L349.80,150.22 L350.00,143.82 L350.20,142.57 L350.40,140.32 L350.60,130.46 L350.80,131.30 L351.00,126.86 L351.20,134.00 L351.40,132.93 L351.60,126.85 L351.80,131.56 L352.00,133.44 L352.20,137.98 L352.40,141.49 L352.60,134.48 L352.80,143.05 L353.00,135.94 L353.20,138.99 L353.40,132.46 L353.60,130.00 L353.80,100.41 L354.00,109.09 L354.20,116.30 L354.40,104.86 L354.60,106.39 L354.80,106.17 L355.00,111.20 L355.20,116.72 L355.40,107.15 L355.60,119.33 L355.80,113.66 L356.00,121.09 L356.20,130.03 L356.40,129.08 L356.60,139.20 L356.80,140.13 L357.00,139.67 L357.20,144.61 L357.40,143.76 L357.60,145.41 L357.80,144.98 L358.00,145.93 L358.20,148.01 L358.40,148.67 L358.60,151.40 L358.80,150.63 L359.00,150.91 L359.20,152.09 L359.40,151.99 L359.60,152.35 L359.80,151.72 L360.00,153.02 L360.20,153.07 L360.40,153.83 L360.60,153.40 L360.80,153.30 L361.00,152.91 L361.20,152.93 L361.40,153.68 L361.60,152.85 L361.80,153.86 L362.00,153.06 L362.20,153.90 L362.40,153.59 L362.60,154.01 L362.80,153.01 L363.00,153.05 L363.20,153.92 L363.40,153.43 L363.60,153.77 L363.80,153.43 L364.00,153.13 L364.20,153.57 L364.40,152.14 L364.60,152.88 L364.80,152.34 L365.00,152.88 L365.20,152.79 L365.40,152.16 L365.60,151.59 L365.80,149.42 L366.00,148.57 L366.20,147.14 L366.40,141.43 L366.60,133.38 L366.80,124.34 L367.00,125.86 L367.20,111.54 L367.40,113.52 L367.60,102.92 L367.80,99.28 L368.00,105.27 L368.20,100.46 L368.40,100.30 L368.60,117.83 L368.80,116.98 L369.00,114.20 L369.20,112.56 L369.40,112.82 L369.60,116.73 L369.80,115.69 L370.00,113.72 L370.20,114.83 L370.40,124.74 L370.60,124.46 L370.80,123.61 L371.00,119.15 L371.20,117.38 L371.40,118.67 L371.60,132.52 L371.80,133.38 L372.00,140.54 L372.20,140.03 L372.40,146.26 L372.60,145.08 L372.80,148.44 L373.00,149.13 L373.20,150.86 L373.40,151.97 L373.60,151.79 L373.80,152.89 L374.00,153.07 L374.20,152.36 L374.40,152.66 L374.60,152.29 L374.80,153.73 L375.00,153.12 L375.20,153.40 L375.40,153.34 L375.60,153.17 L375.80,153.43 L376.00,153.39 L376.20,153.48 L376.40,153.32 L376.60,153.78 L376.80,153.40 L377.00,153.25 L377.20,153.86 L377.40,152.84 L377.60,153.15 L377.80,152.89 L378.00,153.73 L378.20,153.39 L378.40,153.45 L378.60,153.59 L378.80,153.47 L379.00,152.89 L379.20,151.52 L379.40,152.65 L379.60,151.34 L379.80,151.74 L380.00,147.15 L380.20,140.05 L380.40,127.26 L380.60,122.04 L380.80,113.51 L381.00,108.14 L381.20,112.52 L381.40,107.28 L381.60,96.64 L381.80,114.30 L382.00,101.29 L382.20,113.09 L382.40,114.50 L382.60,111.31 L382.80,116.97 L383.00,96.32 L383.20,110.29 L383.40,114.93 L383.60,119.24 L383.80,117.76 L384.00,113.98 L384.20,114.87 L384.40,116.56 L384.60,115.25 L384.80,121.64 L385.00,134.08 L385.20,132.75 L385.40,132.67 L385.60,142.49 L385.80,138.63 L386.00,143.75 L386.20,143.10 L386.40,146.98 L386.60,146.80 L386.80,148.39 L387.00,150.68 L387.20,149.44 L387.40,150.10 L387.60,151.59 L387.80,152.33 L388.00,151.83 L388.20,153.01 L388.40,152.42 L388.60,153.29 L388.80,153.51 L389.00,153.64 L389.20,154.02 L389.40,153.75 L389.60,153.81 L389.80,154.02 L390.00,153.41 L390.20,153.54 L390.40,154.07 L390.60,153.90 L390.80,152.93 L391.00,153.93 L391.20,153.63 L391.40,152.89 L391.60,153.96 L391.80,153.58 L392.00,153.08 L392.20,154.07 L392.40,154.01 L392.60,152.92 L392.80,153.23 L393.00,153.77 L393.20,153.44 L393.40,153.56 L393.60,152.40 L393.80,152.05 L394.00,153.29 L394.20,152.28 L394.40,152.71 L394.60,152.06 L394.80,150.52 L395.00,149.46 L395.20,150.03 L395.40,148.36 L395.60,146.64 L395.80,145.43 L396.00,142.08 L396.20,139.56 L396.40,141.33 L396.60,138.95 L396.80,141.04 L397.00,136.88 L397.20,129.40 L397.40,133.18 L397.60,131.71 L397.80,130.54 L398.00,130.71 L398.20,127.79 L398.40,134.63 L398.60,134.28 L398.80,128.12 L399.00,133.36 L399.20,129.22 L399.40,138.97 L399.60,133.54 L399.80,137.77 L400.00,139.00 L400.20,137.03 L400.40,144.08 L400.60,142.59 L400.80,145.48 L401.00,146.07 L401.20,144.89 L401.40,147.97 L401.60,147.54 L401.80,151.13 L402.00,149.07 L402.20,150.17 L402.40,151.61 L402.60,153.12 L402.80,152.94 L403.00,153.81 L403.20,153.63 L403.40,154.05 L403.60,154.01 L403.80,153.90 L404.00,153.87 L404.20,153.04 L404.40,153.79 L404.60,153.05 L404.80,154.09 L405.00,154.03 L405.20,154.02 L405.40,152.92 L405.60,153.06 L405.80,154.08 L406.00,152.92 L406.20,153.81 L406.40,153.76 L406.60,153.36 L406.80,153.84 L407.00,152.86 L407.20,153.63 L407.40,153.37 L407.60,153.37 L407.80,153.74 L408.00,153.17 L408.20,152.84 L408.40,153.34 L408.60,153.99 L408.80,153.00 L409.00,152.71 L409.20,152.50 L409.40,151.65 L409.60,151.95 L409.80,151.33 L410.00,150.16 L410.20,150.97 L410.40,148.65 L410.60,149.55 L410.80,148.75 L411.00,145.40 L411.20,146.23 L411.40,147.43 L411.60,144.75 L411.80,142.82 L412.00,143.06 L412.20,143.43 L412.40,145.93 L412.60,144.60 L412.80,144.70 L413.00,147.53 L413.20,144.57 L413.40,145.77 L413.60,146.13 L413.80,145.53 L414.00,148.97 L414.20,148.78 L414.40,146.14 L414.60,149.34 L414.80,149.98 L415.00,151.03 L415.20,150.75 L415.40,150.57 L415.60,152.34 L415.80,152.18 L416.00,152.65 L416.20,153.21 L416.40,152.59 L416.60,152.80 L416.80,152.94 L417.00,153.54 L417.20,154.01 L417.40,153.66 L417.60,153.43 L417.80,153.62 L418.00,153.17 L418.20,153.16 L418.40,152.96 L418.60,153.50 L418.80,153.80 L419.00,152.94 L419.20,152.98 L419.40,153.94 L419.60,153.83 L419.80,153.26 L420.00,153.06 L420.20,152.88 L420.40,154.07 L420.60,152.51 L420.80,149.38 L421.00,146.12 L421.20,148.16 L421.40,151.75 L421.60,153.44 L421.80,153.80 L422.00,153.27 L422.20,153.36 L422.40,152.90 L422.60,153.86 L422.80,153.94 L423.00,153.65 L423.20,153.69 L423.40,153.52 L423.60,153.88 L423.80,153.20 L424.00,153.06 L424.20,154.09 L424.40,152.94 L424.60,153.98 L424.80,153.71 L425.00,153.48 L425.20,153.40 L425.40,153.25 L425.60,151.85 L425.80,151.04 L426.00,151.91 L426.20,151.68 L426.40,150.39 L426.60,151.18 L426.80,148.65 L427.00,148.85 L427.20,148.94 L427.40,150.33 L427.60,149.43 L427.80,150.81 L428.00,150.92 L428.20,152.12 L428.40,152.58 L428.60,151.62 L428.80,152.93 L429.00,152.06 L429.20,153.10 L429.40,153.37 L429.60,152.96 L429.80,153.72 L430.00,154.09 L430.20,153.82 L430.40,153.52 L430.60,153.91 L430.80,153.74 L431.00,153.16 L431.20,153.62 L431.40,153.67 L431.60,153.80 L431.80,153.43 L432.00,152.84 L432.20,153.88 L432.40,153.03 L432.60,153.12 L432.80,153.34 L433.00,153.41 L433.20,153.44 L433.40,153.97 L433.60,153.33 L433.80,152.53 L434.00,152.65 L434.20,152.82 L434.40,152.64 L434.60,151.64 L434.80,153.06 L435.00,152.49 L435.20,149.71 L435.40,149.15 L435.60,146.96 L435.80,146.53 L436.00,147.55 L436.20,143.09 L436.40,140.67 L436.60,143.25 L436.80,138.59 L437.00,132.91 L437.20,140.41 L437.40,140.00 L437.60,139.11 L437.80,132.98 L438.00,131.01 L438.20,139.05 L438.40,132.73 L438.60,139.60 L438.80,137.55 L439.00,136.73 L439.20,143.18 L439.40,141.55 L439.60,140.23 L439.80,144.84 L440.00,143.64 L440.20,146.70 L440.40,145.82 L440.60,149.13 L440.80,148.80 L441.00,151.85 L441.20,151.93 L441.40,152.97 L441.60,153.11 L441.80,153.54 L442.00,153.79 L442.20,153.57 L442.40,153.23 L442.60,153.37 L442.80,153.79 L443.00,153.20 L443.20,153.20 L443.40,153.56 L443.60,153.52 L443.80,153.88 L444.00,153.04 L444.20,153.65 L444.40,153.73 L444.60,152.92 L444.80,153.71 L445.00,153.85 L445.20,153.61 L445.40,153.45 L445.60,153.32 L445.80,153.59 L446.00,153.23 L446.20,154.07 L446.40,152.92 L446.60,153.51 L446.80,153.53 L447.00,153.53 L447.20,153.75 L447.40,153.07 L447.60,153.52 L447.80,153.98 L448.00,153.65 L448.20,153.48 L448.40,153.64 L448.60,153.86 L448.80,152.58 L449.00,153.48 L449.20,152.38 L449.40,152.69 L449.60,152.18 L449.80,150.77 L450.00,151.51 L450.20,148.87 L450.40,147.66 L450.60,146.42 L450.80,147.46 L451.00,146.33 L451.20,141.93 L451.40,140.99 L451.60,141.00 L451.80,142.17 L452.00,139.61 L452.20,136.72 L452.40,135.52 L452.60,136.32 L452.80,143.27 L453.00,140.97 L453.20,140.46 L453.40,138.91 L453.60,141.73 L453.80,141.27 L454.00,143.15 L454.20,147.62 L454.40,144.13 L454.60,147.24 L454.80,148.12 L455.00,150.26 L455.20,149.24 L455.40,150.00 L455.60,152.26 L455.80,152.62 L456.00,153.80 L456.20,153.13 L456.40,153.28 L456.60,153.80 L456.80,153.05 L457.00,153.41 L457.20,152.92 L457.40,153.06 L457.60,153.97 L457.80,153.80 L458.00,153.02 L458.20,154.06 L458.40,153.93 L458.60,152.93 L458.80,153.07 L459.00,153.78 L459.20,153.67 L459.40,154.05 L459.60,153.94 L459.80,154.08 L460.00,153.35 L460.20,153.32 L460.40,153.92 L460.60,153.04 L460.80,153.48 L461.00,153.34 L461.20,153.26 L461.40,153.84 L461.60,153.08 L461.80,153.58 L462.00,153.47 L462.20,153.94 L462.40,153.78 L462.60,153.52 L462.80,153.18 L463.00,153.47 L463.20,153.15 L463.40,152.68 L463.60,153.03 L463.80,153.50 L464.00,152.12 L464.20,150.27 L464.40,151.60 L464.60,149.27 L464.80,147.30 L465.00,146.72 L465.20,147.50 L465.40,144.10 L465.60,145.78 L465.80,145.08 L466.00,142.50 L466.20,143.22 L466.40,140.45 L466.60,137.02 L466.80,142.80 L467.00,137.18 L467.20,142.39 L467.40,139.41 L467.60,142.25 L467.80,141.31 L468.00,141.68 L468.20,142.79 L468.40,147.42 L468.60,144.61 L468.80,149.00 L469.00,147.33 L469.20,150.65 L469.40,150.50 L469.60,151.64 L469.80,151.08 L470.00,152.38 L470.20,152.49 L470.40,153.53 L470.60,153.59 L470.80,152.96 L471.00,153.34 L471.20,153.48 L471.40,153.18 L471.60,152.84 L471.80,153.68 L472.00,153.96 L472.20,153.79 L472.40,153.90 L472.60,153.59 L472.80,153.16 L473.00,153.13 L473.20,153.96 L473.40,153.89 L473.60,153.64 L473.80,153.03 L474.00,153.49 L474.20,153.42 L474.40,153.73 L474.60,153.40 L474.80,153.33 L475.00,153.67 L475.20,153.34 L475.40,153.14 L475.60,153.65 L475.80,153.52 L476.00,153.93 L476.20,153.77 L476.40,154.05 L476.60,154.03 L476.80,153.99 L477.00,152.96 L477.20,153.17 L477.40,153.36 L477.60,153.00 L477.80,153.30 L478.00,152.38 L478.20,151.13 L478.40,149.49 L478.60,149.43 L478.80,149.98 L479.00,149.52 L479.20,148.80 L479.40,144.34 L479.60,142.55 L479.80,146.10 L480.00,141.30 L480.20,145.77 L480.40,140.07 L480.60,140.77 L480.80,142.34 L481.00,142.42 L481.20,144.37 L481.40,139.94 L481.60,144.65 L481.80,145.14 L482.00,142.66 L482.20,144.45 L482.40,145.46 L482.60,145.91 L482.80,148.75 L483.00,149.35 L483.20,146.67 L483.40,148.51 L483.60,149.55 L483.80,150.41 L484.00,151.85 L484.20,152.53 L484.40,152.21 L484.60,153.63 L484.80,153.95 L485.00,153.66 L485.20,153.36 L485.40,152.92 L485.60,153.53 L485.80,153.71 L486.00,152.89 L486.20,153.72 L486.40,153.49 L486.60,153.49 L486.80,154.04 L487.00,153.96 L487.20,154.09 L487.40,153.09 L487.60,153.62 L487.80,153.24 L488.00,153.53 L488.20,153.47 L488.40,153.00 L488.60,153.60 L488.80,153.97 L489.00,153.25 L489.20,154.06 L489.40,153.45 L489.60,153.63 L489.80,153.56 L490.00,153.18 L490.20,153.04 L490.40,152.88 L490.60,153.11 L490.80,153.06 L491.00,152.91 L491.20,153.61 L491.40,153.66 L491.60,154.06 L491.80,153.52 L492.00,154.03 L492.20,153.83 L492.40,153.52 L492.60,153.25 L492.80,152.40 L493.00,152.59 L493.20,151.84 L493.40,152.91 L493.60,151.18 L493.80,150.79 L494.00,152.34 L494.20,151.32 L494.40,150.40 L494.60,151.59 L494.80,149.67 L495.00,149.13 L495.20,149.63 L495.40,150.11 L495.60,149.71 L495.80,149.38 L496.00,149.47 L496.20,151.25 L496.40,150.61 L496.60,152.15 L496.80,150.41 L497.00,152.57 L497.20,152.28 L497.40,151.94 L497.60,152.85 L497.80,152.73 L498.00,153.09 L498.20,152.87 L498.40,153.34 L498.60,153.05 L498.80,153.31 L499.00,153.18 L499.20,154.08 L499.40,153.24 L499.60,152.95 L499.80,153.93 L500.00,153.11 L500.20,153.10 L500.40,153.99 L500.60,153.32 L500.80,153.70 L501.00,153.63 L501.20,152.84 L501.40,153.38 L501.60,153.49 L501.80,153.09 L502.00,153.60 L502.20,153.93 L502.40,152.86 L502.60,153.89 L502.80,152.96 L503.00,152.86 L503.20,153.50 L503.40,153.95 L503.60,153.52 L503.80,153.41 L504.00,153.10 L504.20,152.83 L504.40,153.79 L504.60,154.06 L504.80,152.85 L505.00,154.10 L505.20,152.88 L505.40,152.97 L505.60,152.96 L505.80,153.59 L506.00,153.84 L506.20,153.34 L506.40,153.55 L506.60,153.20 L506.80,153.77 L507.00,153.18 L507.20,152.28 L507.40,152.56 L507.60,151.76 L507.80,151.87 L508.00,152.87 L508.20,151.74 L508.40,152.56 L508.60,152.73 L508.80,151.57 L509.00,152.81 L509.20,152.73 L509.40,152.05 L509.60,152.54 L509.80,151.64 L510.00,152.51 L510.20,152.69 L510.40,152.24 L510.60,152.45 L510.80,152.09 L511.00,152.34 L511.20,152.39 L511.40,153.77 L511.60,153.99 L511.80,153.15 L512.00,153.59 L512.20,154.03 L512.40,153.43 L512.60,153.69 L512.80,153.83 L513.00,153.26 L513.20,153.17 L513.40,153.77 L513.60,153.25 L513.80,153.81 L514.00,152.98 L514.20,153.59 L514.40,153.50 L514.60,153.89 L514.80,153.51 L515.00,153.75 L515.20,153.11 L515.40,153.93 L515.60,153.42 L515.80,153.59 L516.00,152.94 L516.20,153.27 L516.40,153.39 L516.60,153.91 L516.80,153.97 L517.00,153.33 L517.20,152.93 L517.40,154.00 L517.60,153.56 L517.80,153.63 L518.00,154.07 L518.20,153.31 L518.40,153.43 L518.60,153.14 L518.80,152.32 L519.00,152.36 L519.20,152.79 L519.40,151.14 L519.60,150.93 L519.80,151.17 L520.00,152.27 L520.20,150.92 L520.40,152.32 L520.60,151.54 L520.80,151.11 L521.00,151.03 L521.20,150.22 L521.40,150.84 L521.60,150.70 L521.80,151.28 L522.00,150.74 L522.20,152.15 L522.40,150.73 L522.60,151.08 L522.80,151.17 L523.00,151.36 L523.20,151.94 L523.40,153.02 L523.60,152.26 L523.80,152.70 L524.00,153.41 L524.20,153.97 L524.40,152.86 L524.60,153.83 L524.80,153.88 L525.00,153.40 L525.20,153.01 L525.40,153.76 L525.60,153.83 L525.80,153.10 L526.00,153.38 L526.20,153.38 L526.40,153.34 L526.60,153.07 L526.80,153.11 L527.00,153.76 L527.20,153.64 L527.40,152.83 L527.60,153.04 L527.80,153.41 L528.00,153.69 L528.20,152.96 L528.40,153.74 L528.60,153.51 L528.80,153.35 L529.00,153.13 L529.20,153.20 L529.40,153.23 L529.60,153.84 L529.80,153.67 L530.00,153.15 L530.20,153.37 L530.40,152.94 L530.60,154.01 L530.80,152.85 L531.00,153.47 L531.20,153.72 L531.40,153.97 L531.60,154.01 L531.80,152.84 L532.00,153.10 L532.20,152.75 L532.40,152.61 L532.60,152.95 L532.80,153.10 L533.00,152.24 L533.20,152.57 L533.40,152.53 L533.60,151.47 L533.80,151.24 L534.00,150.08 L534.20,150.36 L534.40,152.21 L534.60,151.78 L534.80,150.78 L535.00,150.42 L535.20,149.76 L535.40,150.94 L535.60,151.24 L535.80,152.44 L536.00,151.58 L536.20,150.81 L536.40,152.72 L536.60,151.95 L536.80,151.36 L537.00,151.62 L537.20,153.48 L537.40,153.20 L537.60,153.58 L537.80,152.74 L538.00,153.09 L538.20,153.76 L538.40,153.61 L538.60,153.24 L538.80,154.07 L539.00,153.89 L539.20,153.10 L539.40,153.71 L539.60,153.80 L539.80,152.94 L540.00,153.19 L540.20,153.01 L540.40,153.11 L540.60,153.45 L540.80,153.86 L541.00,153.22 L541.20,153.40 L541.40,153.17 L541.60,153.24 L541.80,153.10 L542.00,154.03 L542.20,153.89 L542.40,152.98 L542.60,153.23 L542.80,153.00 L543.00,154.03 L543.20,153.44 L543.40,154.08 L543.60,153.90 L543.80,154.04 L544.00,153.86 L544.20,153.77 L544.40,154.01 L544.60,153.28 L544.80,153.36 L545.00,153.23 L545.20,152.86 L545.40,153.74 L545.60,153.79 L545.80,153.71 L546.00,153.07 L546.20,153.27 L546.40,153.15 L546.60,153.80 L546.80,153.93 L547.00,153.50 L547.20,152.95 L547.40,153.77 L547.60,152.90 L547.80,152.75 L548.00,153.05 L548.20,152.32 L548.40,151.73 L548.60,152.85 L548.80,152.65 L549.00,152.30 L549.20,152.61 L549.40,152.16 L549.60,151.47 L549.80,151.24 L550.00,151.66 L550.20,151.97 L550.40,151.31 L550.60,152.82 L550.80,151.99 L551.00,152.70 L551.20,151.90 L551.40,153.29 L551.60,153.34 L551.80,153.70 L552.00,153.40 L552.20,153.23 L552.40,153.73 L552.60,152.96 L552.80,153.08 L553.00,153.76 L553.20,153.33 L553.40,153.27 L553.60,153.93 L553.80,153.28 L554.00,153.31 L554.20,152.99 L554.40,153.72 L554.60,153.92 L554.80,153.41 L555.00,153.01 L555.20,153.95 L555.40,153.84 L555.60,153.97 L555.80,152.85 L556.00,153.14 L556.20,153.98 L556.40,153.02 L556.60,153.55 L556.80,154.07 L557.00,154.02 L557.20,153.78 L557.40,154.05 L557.60,153.89 L557.80,154.02 L558.00,153.92 L558.20,153.97 L558.40,153.56 L558.60,153.05 L558.80,153.11 L559.00,153.43 L559.20,154.02 L559.40,152.90 L559.60,154.02 L559.80,154.08 L560.00,153.15 L560.20,153.31 L560.40,153.14 L560.60,153.75 L560.80,152.97 L561.00,152.99 L561.20,154.04 L561.40,152.89 L561.60,153.12 L561.80,153.02 L562.00,153.49 L562.20,153.09 L562.40,152.94 L562.60,152.96 L562.80,153.75 L563.00,153.88 L563.20,153.27 L563.40,153.46 L563.60,152.86 L563.80,153.37 L564.00,153.76 L564.20,153.47 L564.40,152.71 L564.60,153.11 L564.80,153.85 L565.00,153.86 L565.20,153.61 L565.40,152.91 L565.60,153.44 L565.80,153.76 L566.00,153.83 L566.20,153.78 L566.40,153.42 L566.60,153.83 L566.80,153.96 L567.00,153.06 L567.20,153.27 L567.40,153.34 L567.60,153.78 L567.80,153.57 L568.00,152.98 L568.20,153.77 L568.40,153.55 L568.60,153.97 L568.80,153.61 L569.00,153.99 L569.20,153.12 L569.40,152.83 L569.60,154.00 L569.80,153.64 L570.00,152.89 L570.20,153.95 L570.40,153.07 L570.60,153.96 L570.80,153.51 L571.00,153.11 L571.20,153.10 L571.40,153.08 L571.60,153.69 L571.80,153.41 L572.00,153.94 L572.20,152.84 L572.40,153.17 L572.60,153.60 L572.80,153.47 L573.00,153.36 L573.20,153.64 L573.40,153.68 L573.60,152.95 L573.80,153.90 L574.00,152.89 L574.20,153.40 L574.40,153.51 L574.60,153.50 L574.80,154.08 L575.00,153.69 L575.20,153.51 L575.40,154.04 L575.60,154.08 L575.80,154.09 L576.00,153.31 L576.20,154.09 L576.40,152.89 L576.60,153.31 L576.80,153.19 L577.00,154.05 L577.20,153.45 L577.40,153.84 L577.60,152.93 L577.80,153.65 L578.00,153.85 L578.20,153.55 L578.40,153.69 L578.60,153.92 L578.80,153.11 L579.00,153.82 L579.20,152.95 L579.40,153.17 L579.60,153.01 L579.80,153.18 L580.00,152.98 L580.20,152.89 L580.40,154.09 L580.60,153.77 L580.80,152.95 L581.00,153.41 L581.20,152.93 L581.40,153.51 L581.60,153.67 L581.80,153.04 L582.00,153.77 L582.20,153.58 L582.40,153.05 L582.60,153.60 L582.80,153.27 L583.00,153.91 L583.20,153.83 L583.40,152.86 L583.60,153.85 L583.80,153.89 L584.00,154.08 L584.20,154.00 L584.40,153.59 L584.60,153.32 L584.80,152.98 L585.00,152.85 L585.20,153.65 L585.40,153.47 L585.60,153.59 L585.80,153.51 L586.00,153.02 L586.20,153.57 L586.40,153.16 L586.60,153.01 L586.80,153.58 L587.00,153.67 L587.20,153.98 L587.40,153.24 L587.60,153.09 L587.80,153.30 L588.00,153.75 L588.20,153.21 L588.40,153.82 L588.60,153.08 L588.80,152.91 L589.00,153.69 L589.20,153.33 L589.40,153.52 L589.60,153.68 L589.80,152.97 L590.00,153.70 L590.00,156.00 Z" fill="#adc9e7" fill-opacity="1.0" stroke="none"/>
<path d="M343.00,156.0 V140.79 M351.70,156.0 V128.96 M354.10,156.0 V40.57 M355.00,156.0 V98.03 M356.70,156.0 V108.68 M369.00,156.0 V53.59 M369.60,156.0 V97.36 M371.20,156.0 V117.13 M382.60,156.0 V87.22 M383.60,156.0 V103.61 M398.10,156.0 V127.95 M437.70,156.0 V121.69 M452.20,156.0 V127.95 M466.50,156.0 V132.00 M480.70,156.0 V140.96" stroke="#a6bdd8" stroke-width="0.9" fill="none"/>
<path d="M536.91,156.0 V150.71 M425.58,156.0 V150.76 M540.70,156.0 V152.40 M538.24,156.0 V150.97 M375.34,156.0 V150.77 M584.31,156.0 V152.16 M559.74,156.0 V152.40 M430.20,156.0 V152.68 M388.85,156.0 V152.19 M439.95,156.0 V143.72 M364.52,156.0 V150.48 M393.97,156.0 V150.52 M540.51,156.0 V151.20 M583.36,156.0 V151.60 M363.59,156.0 V152.47 M532.12,156.0 V152.15 M360.62,156.0 V150.43 M532.88,156.0 V149.28 M463.93,156.0 V151.57 M544.75,156.0 V151.63 M555.78,156.0 V151.23 M372.00,156.0 V137.12 M449.56,156.0 V148.10 M529.79,156.0 V150.74 M529.97,156.0 V150.65 M536.78,156.0 V150.53 M402.85,156.0 V150.56 M479.77,156.0 V138.74 M458.22,156.0 V151.53 M556.39,156.0 V150.02 M539.97,156.0 V152.68 M417.61,156.0 V150.86 M553.09,156.0 V152.72 M439.32,156.0 V138.41 M456.29,156.0 V151.10 M359.30,156.0 V150.07 M420.61,156.0 V149.00 M362.28,156.0 V151.16 M548.44,156.0 V151.08 M349.94,156.0 V144.57 M381.22,156.0 V104.70 M348.23,156.0 V150.45 M500.79,156.0 V149.93 M374.41,156.0 V149.15 M470.29,156.0 V150.41 M382.40,156.0 V98.01 M543.48,156.0 V151.03 M513.21,156.0 V153.21 M506.54,156.0 V152.15 M559.33,156.0 V150.37 M373.95,156.0 V149.50 M542.29,156.0 V150.93 M483.44,156.0 V146.32 M483.93,156.0 V148.46 M552.99,156.0 V150.44 M563.65,156.0 V150.97 M479.62,156.0 V142.21 M561.44,156.0 V151.13 M585.57,156.0 V152.26 M488.50,156.0 V151.65 M523.97,156.0 V150.33 M355.37,156.0 V101.84 M567.42,156.0 V151.31 M443.47,156.0 V150.74 M537.40,156.0 V150.48 M460.81,156.0 V150.56 M356.73,156.0 V135.46 M439.43,156.0 V138.38 M423.80,156.0 V151.58 M517.24,156.0 V152.42 M467.15,156.0 V134.90 M576.25,156.0 V151.57 M532.33,156.0 V150.33 M485.21,156.0 V150.90 M518.94,156.0 V151.02 M483.53,156.0 V146.35 M438.84,156.0 V128.38 M368.09,156.0 V98.13 M422.04,156.0 V150.83 M369.32,156.0 V100.04 M344.26,156.0 V142.98 M445.73,156.0 V153.02 M465.99,156.0 V133.33 M364.27,156.0 V151.39 M445.34,156.0 V151.99 M527.19,156.0 V150.84 M460.18,156.0 V151.17 M369.67,156.0 V104.16 M391.66,156.0 V152.12 M589.57,156.0 V151.25 M365.66,156.0 V149.84 M518.55,156.0 V151.87 M436.70,156.0 V135.88 M361.20,156.0 V149.91 M365.55,156.0 V148.57 M348.24,156.0 V151.16 M417.91,156.0 V152.91 M430.11,156.0 V151.64 M401.10,156.0 V143.19 M433.99,156.0 V151.31 M579.91,156.0 V151.26 M365.22,156.0 V149.28 M447.22,156.0 V152.41 M486.37,156.0 V150.45 M579.24,156.0 V152.18 M513.59,156.0 V152.42 M448.27,156.0 V149.85 M423.94,156.0 V151.93 M506.54,156.0 V150.63 M430.98,156.0 V152.35 M528.55,156.0 V151.62 M345.89,156.0 V150.48 M498.29,156.0 V152.40 M554.08,156.0 V151.69 M547.25,156.0 V152.73 M365.62,156.0 V147.96 M389.93,156.0 V150.57 M468.90,156.0 V144.75 M396.11,156.0 V137.21 M501.08,156.0 V152.23 M450.68,156.0 V142.68 M541.80,156.0 V150.73 M418.14,156.0 V151.75 M380.93,156.0 V105.10 M413.74,156.0 V142.24 M365.14,156.0 V147.50 M415.51,156.0 V147.86 M431.21,156.0 V150.61 M563.26,156.0 V151.19 M432.29,156.0 V150.27 M556.73,156.0 V150.71 M573.78,156.0 V152.55 M546.26,156.0 V151.89 M371.10,156.0 V120.28 M354.15,156.0 V102.89 M467.49,156.0 V134.60 M580.65,156.0 V151.55 M390.43,156.0 V151.68 M358.48,156.0 V148.21 M529.22,156.0 V151.75 M387.09,156.0 V146.86 M501.73,156.0 V152.36 M361.34,156.0 V151.64 M539.20,156.0 V150.68 M569.35,156.0 V152.59 M350.66,156.0 V129.56 M346.86,156.0 V151.18 M521.54,156.0 V149.46 M356.01,156.0 V115.07 M382.11,156.0 V100.65 M390.18,156.0 V152.10 M543.52,156.0 V151.67 M455.26,156.0 V147.59 M555.07,156.0 V152.27 M550.37,156.0 V151.73 M473.76,156.0 V151.13 M506.01,156.0 V151.95 M406.32,156.0 V152.16 M457.74,156.0 V152.40 M473.42,156.0 V150.60 M544.89,156.0 V151.19 M548.50,156.0 V150.62 M412.77,156.0 V140.52 M435.78,156.0 V141.99 M362.69,156.0 V151.23 M402.24,156.0 V148.93 M344.82,156.0 V144.67 M384.45,156.0 V115.45 M527.76,156.0 V151.53 M525.86,156.0 V151.38 M371.30,156.0 V119.16 M525.57,156.0 V151.52 M468.90,156.0 V141.93 M479.15,156.0 V140.96 M386.85,156.0 V145.07 M393.35,156.0 V151.65 M385.29,156.0 V133.10 M462.75,156.0 V150.91 M491.05,156.0 V152.43 M442.28,156.0 V150.45 M544.85,156.0 V153.05 M549.62,156.0 V150.23 M499.20,156.0 V152.52 M536.50,156.0 V149.41 M525.73,156.0 V150.67 M492.83,156.0 V150.40 M388.85,156.0 V150.50 M577.41,156.0 V152.30 M481.56,156.0 V140.50 M586.09,156.0 V151.19 M414.83,156.0 V144.59 M365.34,156.0 V149.96 M443.58,156.0 V151.17 M471.39,156.0 V151.78 M441.36,156.0 V149.83 M550.26,156.0 V148.71 M496.85,156.0 V149.06 M515.98,156.0 V152.39 M515.40,156.0 V152.37 M461.54,156.0 V151.83 M556.74,156.0 V151.34 M524.23,156.0 V149.96 M387.21,156.0 V147.32 M461.11,156.0 V152.65 M402.42,156.0 V150.72 M343.97,156.0 V138.86 M436.61,156.0 V135.17 M493.73,156.0 V148.57 M456.75,156.0 V150.89 M410.22,156.0 V146.34 M514.77,156.0 V150.71 M358.53,156.0 V148.16 M423.11,156.0 V151.49 M376.06,156.0 V151.90 M542.75,156.0 V152.75 M431.35,156.0 V151.83 M462.04,156.0 V152.18 M585.62,156.0 V151.61 M504.75,156.0 V152.26 M392.45,156.0 V151.22" stroke="#a9c6e6" stroke-width="0.6" fill="none"/>
<path d="M271.72,164.0 V162.64 M46.60,164.0 V128.41 M159.17,164.0 V159.78 M195.75,164.0 V162.60 M65.82,164.0 V162.36 M52.02,164.0 V148.33 M107.46,164.0 V162.53 M49.05,164.0 V89.77 M52.09,164.0 V150.74 M228.06,164.0 V162.90 M270.66,164.0 V162.42 M236.78,164.0 V162.68 M92.66,164.0 V163.23 M177.35,164.0 V162.74 M291.71,164.0 V163.09 M130.44,164.0 V161.50 M176.04,164.0 V162.69 M159.10,164.0 V159.71 M185.32,164.0 V162.65 M243.99,164.0 V162.58 M193.33,164.0 V158.79 M98.36,164.0 V159.34 M117.43,164.0 V162.94 M112.89,164.0 V163.02 M278.18,164.0 V163.23 M207.97,164.0 V162.16 M183.35,164.0 V163.26 M182.96,164.0 V163.31 M125.35,164.0 V162.61 M266.53,164.0 V162.52 M162.50,164.0 V162.64 M150.64,164.0 V163.37 M166.10,164.0 V163.02 M44.34,164.0 V163.17 M278.34,164.0 V162.91 M196.11,164.0 V163.11 M101.49,164.0 V162.98 M111.56,164.0 V161.94 M227.58,164.0 V163.12 M259.64,164.0 V162.89 M39.09,164.0 V158.00 M112.81,164.0 V162.57 M145.08,164.0 V150.85 M147.26,164.0 V158.40 M229.10,164.0 V162.72 M239.84,164.0 V163.19 M124.38,164.0 V161.61 M254.67,164.0 V162.81 M181.37,164.0 V161.95 M46.36,164.0 V148.90 M234.13,164.0 V163.17 M105.94,164.0 V162.78 M76.76,164.0 V160.87 M77.92,164.0 V162.78 M238.15,164.0 V163.35 M130.11,164.0 V162.65 M283.31,164.0 V162.80 M85.91,164.0 V153.26 M232.04,164.0 V162.58 M163.07,164.0 V162.76 M223.81,164.0 V163.25 M199.18,164.0 V163.03 M135.88,164.0 V162.39 M186.95,164.0 V162.60 M190.02,164.0 V162.80 M267.39,164.0 V163.07 M82.31,164.0 V162.56 M287.75,164.0 V162.54 M288.33,164.0 V163.26 M136.95,164.0 V162.62 M144.21,164.0 V157.76 M247.96,164.0 V163.30 M196.99,164.0 V163.36 M161.18,164.0 V162.78 M137.71,164.0 V162.65 M218.00,164.0 V161.65 M264.15,164.0 V162.76 M89.59,164.0 V163.28 M91.05,164.0 V162.62 M84.47,164.0 V159.03 M175.33,164.0 V163.03 M205.05,164.0 V160.43 M62.86,164.0 V140.92 M108.49,164.0 V163.08 M186.65,164.0 V162.53 M148.31,164.0 V162.93 M116.89,164.0 V162.51 M212.97,164.0 V162.71 M179.07,164.0 V162.52 M225.16,164.0 V162.60 M118.58,164.0 V161.78 M260.42,164.0 V163.19 M42.22,164.0 V163.03 M140.08,164.0 V163.21 M285.02,164.0 V162.69 M45.94,164.0 V161.58 M185.09,164.0 V162.64 M216.21,164.0 V163.10 M141.41,164.0 V162.85 M153.87,164.0 V162.67 M188.21,164.0 V162.56 M261.36,164.0 V163.09 M227.90,164.0 V162.98 M287.48,164.0 V162.87 M241.28,164.0 V162.90 M146.47,164.0 V153.28 M114.31,164.0 V162.79 M290.60,164.0 V162.99 M290.62,164.0 V162.53 M86.73,164.0 V154.84 M103.34,164.0 V163.06 M144.99,164.0 V154.92 M83.30,164.0 V163.05 M182.00,164.0 V163.33 M260.16,164.0 V162.79 M208.21,164.0 V162.23 M292.11,164.0 V162.56 M125.52,164.0 V162.58 M136.82,164.0 V163.07 M181.72,164.0 V162.75 M159.40,164.0 V160.00 M48.98,164.0 V93.61 M193.14,164.0 V160.28 M204.63,164.0 V161.85 M50.98,164.0 V135.54 M76.02,164.0 V157.56 M200.08,164.0 V162.87 M175.91,164.0 V163.17 M240.37,164.0 V162.61 M158.81,164.0 V158.78 M226.55,164.0 V163.03 M225.34,164.0 V162.57 M165.37,164.0 V162.87 M198.49,164.0 V163.32 M163.71,164.0 V162.46 M56.87,164.0 V162.65 M183.33,164.0 V163.27 M245.59,164.0 V162.93 M180.60,164.0 V161.30 M289.34,164.0 V162.51 M43.10,164.0 V162.95 M169.72,164.0 V162.58 M219.54,164.0 V162.10 M108.53,164.0 V163.02 M280.54,164.0 V162.97 M122.19,164.0 V135.70 M51.42,164.0 V147.85 M145.73,164.0 V154.17 M162.82,164.0 V162.88 M106.51,164.0 V163.25 M215.95,164.0 V162.37 M284.73,164.0 V163.10 M258.90,164.0 V163.16 M99.72,164.0 V159.94 M244.05,164.0 V163.05 M64.81,164.0 V160.89 M186.03,164.0 V162.72 M240.37,164.0 V162.95 M122.30,164.0 V141.70 M60.97,164.0 V120.72 M90.29,164.0 V162.90 M150.64,164.0 V162.68 M238.29,164.0 V163.30 M101.78,164.0 V162.67 M109.91,164.0 V161.14 M206.55,164.0 V159.77 M102.16,164.0 V162.93 M166.55,164.0 V162.61 M83.87,164.0 V161.41 M71.37,164.0 V160.48 M154.55,164.0 V162.91 M53.77,164.0 V161.06 M60.67,164.0 V120.66 M213.73,164.0 V162.68 M236.96,164.0 V162.58 M62.48,164.0 V129.55 M55.40,164.0 V163.06 M284.63,164.0 V163.20 M137.21,164.0 V163.38 M203.86,164.0 V163.00 M69.34,164.0 V162.87 M191.59,164.0 V162.10 M134.81,164.0 V158.31 M198.76,164.0 V162.76 M159.87,164.0 V160.09 M69.24,164.0 V162.46 M75.93,164.0 V157.72 M48.39,164.0 V91.63 M202.47,164.0 V162.37 M244.16,164.0 V162.66 M261.94,164.0 V163.23 M132.47,164.0 V144.45 M160.83,164.0 V162.24 M200.94,164.0 V162.67 M259.60,164.0 V162.79 M148.93,164.0 V162.63 M164.55,164.0 V162.72 M275.52,164.0 V162.58 M216.97,164.0 V162.51 M274.76,164.0 V162.55" stroke="#a9c6e6" stroke-width="0.6" fill="none"/>
<path d="M47.50,380.50 L47.50,374.64 L47.70,373.77 L47.90,373.53 L48.10,374.88 L48.30,374.60 L48.50,372.76 L48.70,374.78 L48.90,374.64 L49.10,372.71 L49.30,373.48 L49.50,374.08 L49.70,373.74 L49.90,373.38 L50.10,374.30 L50.30,374.62 L50.50,373.09 L50.70,373.37 L50.90,373.74 L51.10,373.02 L51.30,373.65 L51.50,372.63 L51.70,374.46 L51.90,373.64 L52.10,373.81 L52.30,374.11 L52.50,373.55 L52.70,374.39 L52.90,373.06 L53.10,372.90 L53.30,374.64 L53.50,373.85 L53.70,374.29 L53.90,374.75 L54.10,372.84 L54.30,373.93 L54.50,374.60 L54.70,373.36 L54.90,374.47 L55.10,372.82 L55.30,374.43 L55.50,374.87 L55.70,374.47 L55.90,374.13 L56.10,373.84 L56.30,372.81 L56.50,373.30 L56.70,374.15 L56.90,374.91 L57.10,374.57 L57.30,372.60 L57.50,373.86 L57.70,373.32 L57.90,374.82 L58.10,374.87 L58.30,372.95 L58.50,373.56 L58.70,374.22 L58.90,374.20 L59.10,374.74 L59.30,374.41 L59.50,374.33 L59.70,371.61 L59.90,372.09 L60.10,372.59 L60.30,369.98 L60.50,371.27 L60.70,371.21 L60.90,365.02 L61.10,346.44 L61.30,343.05 L61.50,314.27 L61.70,327.15 L61.90,329.19 L62.10,330.76 L62.30,325.00 L62.50,315.90 L62.70,320.80 L62.90,313.27 L63.10,326.58 L63.30,324.53 L63.50,325.73 L63.70,307.05 L63.90,304.25 L64.10,315.93 L64.30,312.24 L64.50,314.76 L64.70,304.37 L64.90,322.27 L65.10,322.56 L65.30,316.01 L65.50,321.48 L65.70,310.43 L65.90,315.51 L66.10,319.70 L66.30,317.28 L66.50,316.63 L66.70,314.77 L66.90,311.71 L67.10,328.00 L67.30,318.02 L67.50,328.12 L67.70,321.85 L67.90,314.66 L68.10,314.31 L68.30,320.59 L68.50,337.06 L68.70,333.92 L68.90,339.69 L69.10,329.17 L69.30,344.37 L69.50,345.01 L69.70,345.52 L69.90,351.07 L70.10,343.40 L70.30,348.00 L70.50,354.69 L70.70,352.85 L70.90,358.22 L71.10,354.86 L71.30,359.38 L71.50,362.04 L71.70,362.51 L71.90,360.48 L72.10,361.07 L72.30,364.06 L72.50,363.13 L72.70,365.68 L72.90,367.65 L73.10,367.46 L73.30,367.82 L73.50,366.27 L73.70,370.34 L73.90,371.02 L74.10,369.80 L74.30,369.00 L74.50,369.83 L74.70,371.06 L74.90,373.43 L75.10,371.79 L75.30,372.59 L75.50,374.35 L75.70,373.85 L75.90,374.83 L76.10,373.06 L76.30,373.25 L76.50,372.88 L76.70,372.48 L76.90,373.31 L77.10,371.34 L77.30,372.45 L77.50,372.33 L77.70,370.98 L77.90,370.05 L78.10,370.30 L78.30,368.46 L78.50,367.86 L78.70,368.87 L78.90,366.51 L79.10,367.17 L79.30,364.65 L79.50,366.18 L79.70,361.21 L79.90,361.47 L80.10,358.18 L80.30,354.68 L80.50,353.43 L80.70,353.45 L80.90,342.78 L81.10,350.37 L81.30,344.90 L81.50,339.04 L81.70,344.13 L81.90,339.80 L82.10,326.44 L82.30,323.96 L82.50,324.16 L82.70,316.75 L82.90,317.55 L83.10,325.28 L83.30,316.68 L83.50,322.20 L83.70,312.60 L83.90,320.24 L84.10,325.32 L84.30,309.64 L84.50,314.15 L84.70,313.61 L84.90,318.40 L85.10,314.71 L85.30,322.85 L85.50,321.75 L85.70,333.10 L85.90,325.07 L86.10,322.03 L86.30,325.99 L86.50,326.37 L86.70,333.62 L86.90,329.63 L87.10,343.59 L87.30,334.51 L87.50,343.74 L87.70,349.36 L87.90,344.88 L88.10,348.93 L88.30,351.26 L88.50,349.10 L88.70,357.82 L88.90,355.47 L89.10,358.97 L89.30,359.87 L89.50,361.77 L89.70,365.56 L89.90,364.31 L90.10,362.95 L90.30,367.20 L90.50,368.49 L90.70,368.66 L90.90,367.28 L91.10,365.49 L91.30,370.12 L91.50,366.64 L91.70,369.04 L91.90,369.38 L92.10,366.30 L92.30,365.86 L92.50,361.31 L92.70,361.08 L92.90,361.87 L93.10,361.54 L93.30,356.87 L93.50,357.83 L93.70,360.83 L93.90,361.99 L94.10,361.17 L94.30,361.50 L94.50,368.04 L94.70,367.40 L94.90,365.56 L95.10,364.05 L95.30,366.05 L95.50,365.77 L95.70,364.47 L95.90,363.28 L96.10,361.07 L96.30,362.04 L96.50,365.92 L96.70,366.21 L96.90,364.37 L97.10,362.75 L97.30,363.46 L97.50,367.18 L97.70,364.89 L97.90,364.27 L98.10,366.08 L98.30,362.77 L98.50,363.53 L98.70,363.49 L98.90,358.99 L99.10,361.17 L99.30,354.83 L99.50,351.69 L99.70,348.75 L99.90,351.59 L100.10,353.51 L100.30,343.01 L100.50,341.51 L100.70,338.47 L100.90,341.61 L101.10,339.02 L101.30,341.84 L101.50,343.43 L101.70,340.81 L101.90,333.32 L102.10,338.60 L102.30,332.15 L102.50,334.63 L102.70,335.15 L102.90,326.56 L103.10,339.56 L103.30,334.45 L103.50,339.93 L103.70,327.75 L103.90,335.34 L104.10,338.29 L104.30,341.39 L104.50,335.50 L104.70,339.21 L104.90,344.02 L105.10,346.19 L105.30,341.98 L105.50,340.38 L105.70,342.38 L105.90,338.65 L106.10,339.87 L106.30,341.00 L106.50,344.04 L106.70,349.04 L106.90,349.85 L107.10,352.47 L107.30,353.73 L107.50,358.32 L107.70,352.77 L107.90,358.81 L108.10,361.69 L108.30,359.50 L108.50,358.96 L108.70,362.11 L108.90,363.70 L109.10,363.09 L109.30,366.92 L109.50,368.61 L109.70,366.74 L109.90,368.01 L110.10,367.25 L110.30,369.42 L110.50,368.31 L110.70,371.56 L110.90,371.80 L111.10,370.06 L111.30,371.67 L111.50,372.49 L111.70,372.57 L111.90,372.08 L112.10,372.49 L112.30,372.13 L112.50,371.54 L112.70,373.27 L112.90,374.01 L113.10,373.30 L113.30,374.94 L113.50,374.04 L113.70,374.18 L113.90,373.82 L114.10,374.46 L114.30,372.99 L114.50,372.60 L114.70,372.04 L114.90,371.23 L115.10,372.71 L115.30,371.62 L115.50,372.04 L115.70,372.54 L115.90,370.21 L116.10,370.43 L116.30,369.54 L116.50,369.71 L116.70,369.14 L116.90,371.70 L117.10,371.92 L117.30,371.07 L117.50,370.08 L117.70,368.83 L117.90,369.58 L118.10,369.09 L118.30,367.72 L118.50,369.87 L118.70,366.32 L118.90,368.54 L119.10,366.74 L119.30,363.28 L119.50,362.52 L119.70,363.27 L119.90,363.10 L120.10,358.55 L120.30,361.49 L120.50,362.47 L120.70,359.99 L120.90,361.01 L121.10,353.53 L121.30,358.63 L121.50,350.12 L121.70,356.32 L121.90,354.71 L122.10,351.24 L122.30,353.34 L122.50,351.99 L122.70,354.33 L122.90,350.78 L123.10,354.32 L123.30,351.75 L123.50,343.71 L123.70,350.52 L123.90,350.44 L124.10,345.61 L124.30,343.19 L124.50,349.95 L124.70,349.09 L124.90,345.36 L125.10,344.71 L125.30,347.04 L125.50,352.25 L125.70,352.61 L125.90,346.79 L126.10,347.93 L126.30,346.60 L126.50,348.53 L126.70,352.87 L126.90,356.38 L127.10,349.95 L127.30,352.66 L127.50,354.63 L127.70,354.63 L127.90,358.02 L128.10,359.23 L128.30,358.36 L128.50,359.99 L128.70,359.37 L128.90,358.89 L129.10,360.52 L129.30,364.27 L129.50,365.23 L129.70,363.16 L129.90,366.82 L130.10,365.75 L130.30,369.77 L130.50,368.99 L130.70,369.08 L130.90,368.14 L131.10,368.10 L131.30,371.06 L131.50,369.53 L131.70,369.70 L131.90,371.61 L132.10,369.43 L132.30,370.62 L132.50,369.48 L132.70,372.25 L132.90,371.36 L133.10,372.20 L133.30,371.44 L133.50,371.76 L133.70,372.26 L133.90,373.00 L134.10,372.71 L134.30,373.26 L134.50,372.13 L134.70,373.44 L134.90,373.60 L135.10,374.32 L135.30,374.35 L135.50,372.70 L135.70,374.21 L135.90,372.90 L136.10,373.54 L136.30,372.64 L136.50,374.56 L136.70,372.73 L136.90,373.13 L137.10,373.61 L137.30,373.28 L137.50,373.15 L137.70,373.64 L137.90,373.02 L138.10,373.89 L138.30,374.29 L138.50,372.41 L138.70,372.79 L138.90,371.11 L139.10,372.46 L139.30,370.15 L139.50,368.94 L139.70,368.58 L139.90,367.66 L140.10,370.25 L140.30,369.70 L140.50,368.89 L140.70,367.72 L140.90,368.36 L141.10,367.67 L141.30,367.87 L141.50,362.35 L141.70,364.98 L141.90,362.91 L142.10,363.42 L142.30,361.13 L142.50,360.23 L142.70,362.53 L142.90,361.12 L143.10,363.74 L143.30,362.16 L143.50,362.33 L143.70,361.49 L143.90,361.19 L144.10,359.22 L144.30,360.87 L144.50,360.85 L144.70,357.13 L144.90,363.15 L145.10,363.26 L145.30,362.98 L145.50,357.29 L145.70,359.18 L145.90,358.77 L146.10,357.49 L146.30,362.92 L146.50,358.54 L146.70,363.45 L146.90,362.07 L147.10,361.52 L147.30,361.34 L147.50,365.14 L147.70,364.32 L147.90,367.25 L148.10,366.44 L148.30,363.43 L148.50,364.49 L148.70,366.69 L148.90,366.38 L149.10,366.55 L149.30,369.55 L149.50,367.60 L149.70,370.23 L149.90,371.80 L150.10,371.08 L150.30,371.45 L150.50,371.72 L150.70,372.26 L150.90,374.10 L151.10,372.67 L151.30,372.12 L151.50,372.93 L151.70,372.35 L151.90,373.65 L152.10,373.04 L152.30,374.62 L152.50,372.84 L152.70,373.92 L152.90,372.88 L153.10,374.19 L153.30,373.48 L153.50,372.95 L153.70,373.27 L153.90,373.49 L154.10,372.66 L154.30,374.74 L154.50,374.71 L154.70,373.65 L154.90,372.70 L155.10,373.33 L155.30,374.22 L155.50,374.69 L155.70,373.89 L155.90,373.81 L156.10,373.84 L156.30,373.49 L156.50,374.30 L156.70,372.87 L156.90,374.27 L157.10,374.69 L157.30,374.12 L157.50,372.74 L157.70,374.57 L157.90,374.29 L158.10,372.76 L158.30,374.13 L158.50,372.96 L158.70,374.80 L158.90,372.56 L159.10,373.98 L159.30,373.94 L159.50,372.28 L159.70,371.41 L159.90,371.28 L160.10,371.67 L160.30,371.01 L160.50,370.42 L160.70,370.86 L160.90,371.45 L161.10,367.91 L161.30,368.85 L161.50,368.40 L161.70,366.72 L161.90,368.30 L162.10,367.78 L162.30,365.86 L162.50,363.40 L162.70,361.97 L162.90,360.28 L163.10,360.81 L163.30,359.84 L163.50,361.69 L163.70,361.14 L163.90,362.24 L164.10,365.62 L164.30,366.07 L164.50,362.45 L164.70,366.20 L164.90,363.65 L165.10,366.12 L165.30,369.10 L165.50,367.27 L165.70,368.65 L165.90,370.96 L166.10,371.03 L166.30,371.67 L166.50,372.35 L166.70,371.61 L166.90,373.33 L167.10,372.72 L167.30,372.45 L167.50,371.74 L167.70,374.11 L167.90,374.37 L168.10,374.13 L168.30,373.80 L168.50,373.69 L168.70,373.67 L168.90,373.02 L169.10,372.69 L169.30,371.60 L169.50,370.73 L169.70,371.33 L169.90,371.70 L170.10,371.66 L170.30,370.73 L170.50,370.77 L170.70,369.22 L170.90,367.27 L171.10,367.51 L171.30,369.35 L171.50,369.78 L171.70,369.32 L171.90,367.26 L172.10,367.25 L172.30,365.30 L172.50,367.97 L172.70,366.75 L172.90,364.09 L173.10,363.51 L173.30,362.46 L173.50,358.43 L173.70,362.50 L173.90,360.53 L174.10,356.00 L174.30,354.32 L174.50,348.61 L174.70,346.59 L174.90,348.71 L175.10,344.85 L175.30,343.56 L175.50,348.74 L175.70,340.77 L175.90,342.96 L176.10,340.38 L176.30,341.69 L176.50,342.40 L176.70,326.67 L176.90,326.97 L177.10,324.40 L177.30,331.16 L177.50,327.11 L177.70,330.32 L177.90,320.30 L178.10,313.87 L178.30,313.66 L178.50,308.94 L178.70,322.56 L178.90,311.74 L179.10,323.91 L179.30,313.84 L179.50,323.15 L179.70,312.70 L179.90,312.36 L180.10,315.98 L180.30,304.17 L180.50,293.98 L180.70,312.78 L180.90,316.24 L181.10,323.60 L181.30,320.37 L181.50,308.46 L181.70,306.81 L181.90,321.13 L182.10,311.70 L182.30,313.15 L182.50,328.11 L182.70,328.39 L182.90,321.75 L183.10,330.82 L183.30,320.74 L183.50,333.10 L183.70,328.74 L183.90,331.14 L184.10,340.80 L184.30,332.89 L184.50,342.63 L184.70,347.38 L184.90,349.79 L185.10,346.53 L185.30,346.29 L185.50,352.12 L185.70,347.97 L185.90,355.42 L186.10,351.79 L186.30,360.47 L186.50,360.00 L186.70,362.16 L186.90,361.51 L187.10,363.50 L187.30,364.52 L187.50,363.19 L187.70,365.04 L187.90,365.29 L188.10,366.76 L188.30,365.08 L188.50,366.95 L188.70,366.19 L188.90,365.84 L189.10,367.57 L189.30,368.70 L189.50,369.76 L189.70,367.51 L189.90,368.48 L190.10,368.74 L190.30,371.20 L190.50,370.76 L190.70,369.58 L190.90,371.56 L191.10,369.28 L191.30,369.96 L191.50,370.85 L191.70,369.97 L191.90,370.87 L192.10,368.19 L192.30,367.64 L192.50,370.30 L192.70,368.67 L192.90,365.51 L193.10,367.31 L193.30,364.47 L193.50,361.74 L193.70,361.94 L193.90,363.73 L194.10,356.99 L194.30,356.77 L194.50,356.82 L194.70,357.44 L194.90,353.90 L195.10,354.30 L195.30,355.69 L195.50,354.44 L195.70,354.06 L195.90,351.44 L196.10,349.31 L196.30,343.19 L196.50,342.48 L196.70,340.97 L196.90,336.42 L197.10,345.42 L197.30,340.06 L197.50,343.63 L197.70,337.44 L197.90,341.83 L198.10,341.22 L198.30,339.85 L198.50,334.38 L198.70,327.34 L198.90,334.97 L199.10,326.48 L199.30,334.97 L199.50,333.73 L199.70,330.26 L199.90,337.21 L200.10,330.56 L200.30,328.27 L200.50,324.22 L200.70,338.08 L200.90,325.47 L201.10,330.01 L201.30,330.49 L201.50,340.07 L201.70,327.05 L201.90,337.80 L202.10,334.41 L202.30,335.58 L202.50,331.06 L202.70,336.93 L202.90,332.60 L203.10,344.60 L203.30,340.01 L203.50,342.52 L203.70,344.71 L203.90,344.73 L204.10,347.07 L204.30,350.85 L204.50,348.98 L204.70,356.04 L204.90,353.46 L205.10,355.07 L205.30,358.46 L205.50,356.79 L205.70,357.36 L205.90,362.63 L206.10,362.55 L206.30,365.16 L206.50,362.98 L206.70,367.00 L206.90,367.16 L207.10,367.05 L207.30,368.00 L207.50,370.28 L207.70,366.72 L207.90,369.99 L208.10,368.76 L208.30,370.56 L208.50,369.44 L208.70,370.63 L208.90,371.04 L209.10,370.78 L209.30,370.70 L209.50,370.96 L209.70,370.97 L209.90,372.55 L210.10,373.33 L210.30,373.11 L210.50,373.16 L210.70,372.67 L210.90,373.43 L211.10,373.60 L211.30,373.97 L211.50,372.41 L211.70,373.56 L211.90,372.19 L212.10,371.46 L212.30,371.42 L212.50,372.64 L212.70,371.81 L212.90,369.68 L213.10,372.14 L213.30,369.37 L213.50,369.54 L213.70,368.04 L213.90,368.19 L214.10,368.68 L214.30,365.73 L214.50,367.83 L214.70,362.23 L214.90,361.60 L215.10,363.27 L215.30,361.31 L215.50,360.43 L215.70,356.20 L215.90,362.23 L216.10,359.44 L216.30,357.69 L216.50,353.56 L216.70,353.10 L216.90,354.99 L217.10,358.08 L217.30,351.21 L217.50,352.82 L217.70,355.10 L217.90,349.11 L218.10,350.45 L218.30,351.39 L218.50,351.32 L218.70,348.05 L218.90,350.76 L219.10,348.77 L219.30,342.13 L219.50,347.32 L219.70,349.82 L219.90,346.60 L220.10,341.93 L220.30,342.61 L220.50,344.98 L220.70,342.62 L220.90,344.58 L221.10,345.83 L221.30,349.10 L221.50,352.65 L221.70,346.74 L221.90,348.42 L222.10,345.57 L222.30,353.01 L222.50,348.12 L222.70,355.40 L222.90,349.23 L223.10,349.74 L223.30,359.16 L223.50,357.53 L223.70,352.81 L223.90,354.13 L224.10,357.47 L224.30,362.35 L224.50,364.06 L224.70,363.22 L224.90,359.67 L225.10,361.56 L225.30,364.70 L225.50,363.78 L225.70,364.01 L225.90,367.84 L226.10,366.04 L226.30,369.48 L226.50,369.96 L226.70,371.70 L226.90,371.91 L227.10,370.96 L227.30,372.88 L227.50,371.43 L227.70,372.80 L227.90,371.28 L228.10,373.31 L228.30,373.28 L228.50,373.31 L228.70,372.68 L228.90,372.32 L229.10,372.70 L229.30,372.96 L229.50,373.33 L229.70,373.67 L229.90,374.14 L230.10,374.52 L230.30,372.91 L230.50,373.98 L230.70,373.41 L230.90,374.79 L231.10,374.10 L231.30,374.71 L231.50,374.11 L231.70,373.22 L231.90,374.14 L232.10,373.34 L232.30,374.66 L232.50,374.04 L232.70,373.98 L232.90,373.75 L233.10,374.41 L233.30,373.30 L233.50,372.87 L233.70,373.02 L233.90,374.73 L234.10,373.46 L234.30,373.67 L234.50,372.93 L234.70,374.06 L234.90,372.18 L235.10,372.77 L235.30,370.69 L235.50,372.98 L235.70,371.18 L235.90,370.38 L236.10,368.50 L236.30,368.14 L236.50,369.89 L236.70,368.81 L236.90,366.29 L237.10,367.16 L237.30,367.37 L237.50,363.35 L237.70,363.16 L237.90,365.27 L238.10,363.63 L238.30,360.83 L238.50,364.64 L238.70,359.83 L238.90,359.48 L239.10,360.05 L239.30,359.91 L239.50,359.55 L239.70,360.21 L239.90,359.66 L240.10,362.19 L240.30,359.39 L240.50,358.44 L240.70,359.71 L240.90,358.25 L241.10,359.87 L241.30,357.39 L241.50,358.09 L241.70,362.81 L241.90,358.09 L242.10,361.77 L242.30,363.44 L242.50,363.43 L242.70,362.36 L242.90,361.39 L243.10,363.07 L243.30,364.29 L243.50,361.23 L243.70,364.15 L243.90,361.75 L244.10,365.90 L244.30,363.99 L244.50,366.34 L244.70,364.43 L244.90,366.07 L245.10,366.55 L245.30,369.75 L245.50,367.52 L245.70,369.74 L245.90,368.85 L246.10,369.10 L246.30,372.17 L246.50,372.99 L246.70,371.24 L246.90,371.23 L247.10,371.72 L247.30,373.13 L247.50,372.25 L247.70,374.48 L247.90,374.53 L248.10,373.40 L248.30,373.69 L248.50,373.00 L248.70,374.40 L248.90,373.86 L249.10,372.61 L249.30,374.23 L249.50,373.99 L249.70,373.51 L249.90,372.60 L250.10,374.52 L250.30,373.32 L250.50,373.97 L250.70,374.00 L250.90,374.34 L251.10,373.85 L251.30,373.59 L251.50,374.02 L251.70,373.75 L251.90,373.45 L252.10,372.94 L252.30,373.62 L252.50,374.04 L252.70,372.68 L252.90,374.54 L253.10,374.84 L253.30,372.81 L253.50,374.32 L253.70,374.59 L253.90,374.04 L254.10,374.14 L254.30,374.11 L254.50,372.94 L254.70,374.26 L254.90,374.63 L255.10,374.20 L255.30,371.92 L255.50,372.86 L255.70,372.64 L255.90,370.96 L256.10,369.98 L256.30,370.90 L256.50,369.40 L256.70,370.93 L256.90,370.21 L257.10,368.92 L257.30,369.89 L257.50,369.37 L257.70,369.40 L257.90,368.74 L258.10,365.76 L258.30,365.61 L258.50,368.56 L258.70,367.16 L258.90,365.05 L259.10,364.11 L259.30,365.43 L259.50,364.40 L259.70,366.83 L259.90,363.85 L260.10,363.57 L260.30,365.74 L260.50,366.66 L260.70,367.77 L260.90,364.66 L261.10,364.75 L261.30,368.18 L261.50,365.64 L261.70,363.71 L261.90,368.53 L262.10,368.21 L262.30,368.83 L262.50,367.30 L262.70,367.86 L262.90,366.01 L263.10,369.93 L263.30,369.69 L263.50,367.02 L263.70,371.12 L263.90,370.56 L264.10,370.45 L264.30,372.25 L264.50,371.65 L264.70,371.04 L264.90,371.45 L265.10,371.92 L265.30,372.25 L265.50,372.79 L265.70,374.65 L265.90,373.40 L266.10,373.57 L266.30,374.43 L266.50,373.96 L266.70,374.39 L266.90,372.90 L267.10,374.29 L267.30,374.56 L267.50,373.07 L267.70,373.15 L267.90,372.94 L268.10,373.35 L268.30,373.96 L268.50,373.83 L268.70,373.64 L268.90,373.54 L269.10,372.72 L269.30,374.32 L269.50,373.14 L269.70,374.91 L269.90,374.50 L270.10,372.72 L270.30,374.35 L270.50,373.74 L270.70,372.79 L270.90,373.40 L271.10,373.80 L271.30,373.29 L271.50,372.64 L271.70,372.73 L271.90,374.52 L272.10,374.62 L272.30,374.27 L272.50,374.60 L272.70,373.15 L272.90,372.98 L273.10,374.61 L273.30,374.77 L273.50,374.18 L273.70,373.33 L273.90,373.13 L274.10,373.86 L274.30,373.44 L274.50,372.78 L274.70,372.87 L274.90,374.67 L275.10,373.09 L275.30,372.30 L275.50,371.29 L275.70,372.11 L275.90,372.42 L276.10,370.88 L276.30,370.76 L276.50,370.26 L276.70,368.30 L276.90,368.54 L277.10,368.15 L277.30,368.06 L277.50,370.07 L277.70,370.38 L277.90,369.01 L278.10,367.24 L278.30,368.27 L278.50,367.98 L278.70,369.00 L278.90,368.80 L279.10,368.53 L279.30,370.06 L279.50,370.15 L279.70,370.44 L279.90,371.76 L280.10,372.20 L280.30,374.62 L280.50,374.86 L280.70,372.77 L280.90,374.39 L281.10,374.23 L281.30,374.63 L281.50,373.45 L281.70,374.88 L281.90,373.06 L282.10,374.24 L282.30,373.19 L282.50,372.80 L282.70,373.32 L282.90,373.95 L283.10,373.47 L283.30,372.93 L283.50,373.27 L283.70,374.35 L283.90,374.93 L284.10,372.87 L284.30,373.48 L284.50,374.80 L284.70,373.65 L284.90,373.56 L285.10,374.25 L285.30,372.86 L285.50,374.38 L285.70,374.61 L285.90,374.22 L286.10,374.15 L286.30,372.86 L286.50,373.40 L286.70,374.66 L286.90,374.02 L287.10,374.70 L287.30,373.28 L287.50,372.93 L287.70,374.73 L287.90,373.77 L288.10,374.37 L288.30,374.27 L288.50,373.19 L288.70,372.64 L288.90,374.29 L289.10,373.67 L289.30,374.08 L289.50,374.49 L289.70,372.91 L289.90,373.85 L290.10,372.20 L290.30,371.79 L290.50,373.28 L290.70,371.74 L290.90,372.68 L291.10,370.74 L291.30,372.02 L291.50,370.48 L291.70,370.15 L291.90,369.61 L292.10,370.22 L292.30,366.83 L292.50,368.07 L292.70,365.21 L292.90,365.77 L293.10,365.01 L293.30,362.56 L293.50,363.85 L293.70,360.23 L293.90,361.38 L294.10,358.36 L294.30,357.70 L294.50,354.82 L294.70,358.15 L294.90,357.84 L295.10,351.48 L295.30,354.86 L295.50,355.03 L295.70,351.73 L295.90,355.41 L296.10,347.96 L296.30,349.44 L296.50,350.04 L296.70,353.34 L296.90,347.73 L297.10,346.37 L297.30,347.57 L297.50,346.26 L297.70,354.88 L297.90,348.23 L298.10,347.14 L298.30,351.45 L298.50,355.81 L298.70,351.55 L298.90,354.98 L299.10,357.51 L299.30,349.52 L299.50,351.24 L299.70,353.80 L299.90,353.62 L300.10,355.14 L300.30,357.71 L300.50,361.23 L300.70,360.75 L300.90,360.04 L301.10,360.45 L301.30,363.23 L301.50,365.17 L301.70,364.72 L301.90,366.46 L302.10,363.39 L302.30,367.89 L302.50,367.89 L302.70,368.08 L302.90,370.08 L303.10,369.91 L303.30,370.48 L303.50,372.59 L303.70,369.90 L303.90,371.44 L303.90,380.50 Z" fill="#b8cfe6" fill-opacity="1.0" stroke="none"/>
<path d="M49.80,380.5 V370.78 M51.60,380.5 V364.04 M53.70,380.5 V364.04 M55.20,380.5 V368.53 M57.00,380.5 V371.52 M61.40,380.5 V257.83 M62.50,380.5 V268.30 M65.70,380.5 V239.88 M66.50,380.5 V264.41 M82.20,380.5 V291.79 M85.70,380.5 V294.78 M93.30,380.5 V322.16 M103.00,380.5 V322.16 M101.00,380.5 V329.64 M111.60,380.5 V351.33 M124.40,380.5 V344.60 M144.70,380.5 V358.51 M163.50,380.5 V338.61 M180.40,380.5 V282.51 M200.30,380.5 V327.54 M220.00,380.5 V345.79 M277.70,380.5 V350.88 M297.00,380.5 V348.19" stroke="#a3bfdd" stroke-width="0.9" fill="none"/>
<path d="M161.37,380.5 V362.23 M112.89,380.5 V369.79 M241.43,380.5 V355.56 M179.92,380.5 V311.49 M76.71,380.5 V371.59 M245.59,380.5 V363.38 M182.50,380.5 V318.58 M66.21,380.5 V313.67 M286.45,380.5 V371.67 M112.09,380.5 V368.91 M260.09,380.5 V359.24 M123.52,380.5 V343.07 M228.70,380.5 V367.35 M179.50,380.5 V307.71 M97.10,380.5 V357.00 M210.47,380.5 V367.89 M70.16,380.5 V347.02 M81.74,380.5 V330.35 M94.38,380.5 V361.70 M239.31,380.5 V356.55 M229.48,380.5 V370.57 M303.49,380.5 V366.07 M148.91,380.5 V360.55 M225.58,380.5 V363.45 M52.14,380.5 V371.56 M214.35,380.5 V364.69 M89.87,380.5 V360.30 M112.10,380.5 V367.46 M102.83,380.5 V329.55 M174.51,380.5 V346.08 M214.76,380.5 V357.99 M188.91,380.5 V360.44 M51.91,380.5 V368.31 M144.95,380.5 V358.33 M286.06,380.5 V370.11 M89.08,380.5 V353.04 M193.96,380.5 V357.07 M212.65,380.5 V369.10 M95.92,380.5 V355.12 M64.23,380.5 V306.42 M275.89,380.5 V367.78 M219.27,380.5 V340.31 M99.59,380.5 V352.39 M200.40,380.5 V325.21 M109.79,380.5 V360.11 M159.97,380.5 V371.00 M214.74,380.5 V355.76 M163.48,380.5 V357.56 M215.53,380.5 V354.01 M134.46,380.5 V371.93 M130.69,380.5 V362.60 M52.87,380.5 V371.53 M116.36,380.5 V366.02 M95.71,380.5 V359.59 M78.65,380.5 V362.52 M123.82,380.5 V340.80 M260.39,380.5 V361.45 M180.51,380.5 V294.20 M139.02,380.5 V366.95 M73.23,380.5 V360.30 M240.53,380.5 V356.25 M189.61,380.5 V367.76 M210.69,380.5 V369.06 M291.05,380.5 V368.99 M254.30,380.5 V368.37 M107.25,380.5 V348.67 M56.33,380.5 V371.50 M88.78,380.5 V347.65 M235.52,380.5 V367.64 M247.93,380.5 V370.90 M64.02,380.5 V309.03 M194.40,380.5 V356.16 M272.54,380.5 V368.44 M221.56,380.5 V342.85 M234.82,380.5 V368.37 M167.89,380.5 V370.25 M96.61,380.5 V358.91 M179.93,380.5 V310.03 M138.79,380.5 V367.96 M149.90,380.5 V363.53 M57.96,380.5 V372.36 M128.92,380.5 V359.05 M297.64,380.5 V349.93 M215.09,380.5 V357.82 M52.92,380.5 V371.18 M67.70,380.5 V317.33 M164.78,380.5 V360.84 M192.20,380.5 V362.66 M169.49,380.5 V369.05 M289.44,380.5 V371.74 M111.26,380.5 V369.48 M157.99,380.5 V370.80 M234.68,380.5 V371.32 M120.16,380.5 V357.48 M117.71,380.5 V363.21 M253.32,380.5 V370.64 M255.66,380.5 V368.18 M117.48,380.5 V365.42 M158.97,380.5 V370.84 M256.18,380.5 V365.19 M151.94,380.5 V370.38 M265.84,380.5 V370.22 M170.22,380.5 V366.17 M105.11,380.5 V333.73 M126.68,380.5 V347.78 M73.08,380.5 V360.98 M203.67,380.5 V343.04 M203.62,380.5 V337.80 M261.00,380.5 V359.92 M226.76,380.5 V363.26 M159.58,380.5 V368.72 M187.20,380.5 V357.70 M103.57,380.5 V331.80 M266.32,380.5 V371.97 M232.08,380.5 V368.49 M232.48,380.5 V371.95 M217.59,380.5 V348.50 M64.41,380.5 V305.71 M158.19,380.5 V370.07 M167.66,380.5 V370.67 M94.60,380.5 V362.64 M248.53,380.5 V372.65 M219.20,380.5 V345.18 M193.28,380.5 V361.32 M189.65,380.5 V364.79 M197.09,380.5 V333.23 M249.74,380.5 V367.90 M99.38,380.5 V352.72 M194.85,380.5 V349.45 M181.70,380.5 V311.90 M266.06,380.5 V370.99 M298.80,380.5 V349.30 M79.32,380.5 V363.00 M239.05,380.5 V358.59 M94.10,380.5 V357.77 M200.89,380.5 V324.56 M185.95,380.5 V351.09 M178.10,380.5 V317.56 M180.72,380.5 V311.38 M114.54,380.5 V370.13" stroke="#b3cbe4" stroke-width="0.6" fill="none"/>
<path d="M48,371 V380 M68,379.5 Q78,376.5 92,379.5" stroke="#6f9bd2" stroke-width="0.7" fill="none" stroke-opacity="0.6"/>
<path d="M364.20,254.59 L364.45,257.22 L364.70,261.47 L364.95,264.62 L365.20,268.92 L365.45,272.76 L365.70,275.27 L365.95,277.83 L366.20,281.54 L366.45,283.66 L366.70,285.31 L366.95,287.86 L367.20,289.99 L367.45,290.56 L367.70,292.59 L367.95,293.43 L368.20,293.65 L368.45,294.16 L368.70,295.39 L368.95,294.68 L369.20,294.47 L369.45,293.99 L369.70,292.55 L369.95,290.41 L370.20,288.68 L370.45,286.45 L370.70,283.88 L370.95,280.34 L371.20,276.34 L371.45,271.83 L371.70,267.88 L371.95,262.06 L372.20,257.18 L372.45,250.94 L372.70,247.33 L372.95,247.59 L373.20,251.95 L373.45,257.88 L373.70,263.99 L373.95,268.67 L374.20,273.04 L374.45,277.50 L374.70,282.20 L374.95,285.35 L375.20,288.15 L375.45,290.47 L375.70,293.08 L375.95,294.09 L376.20,295.78 L376.45,295.85 L376.70,297.01 L376.95,297.41 L377.20,296.78 L377.45,295.41 L377.70,295.12 L377.95,293.59 L378.20,292.83 L378.45,289.96 L378.70,287.88 L378.95,285.62 L379.20,283.25 L379.45,280.95 L379.70,277.33 L379.95,273.91 L380.20,269.35 L380.45,265.39 L380.70,261.22 L380.95,258.11 L381.20,257.77 L381.45,260.00 L381.70,263.72 L381.95,267.38 L382.20,271.15 L382.45,274.13 L382.70,277.62 L382.95,280.37 L383.20,282.55 L383.45,283.73 L383.70,286.22 L383.95,286.69 L384.20,287.94 L384.45,289.42 L384.70,289.47 L384.95,290.27 L385.20,290.03 L385.45,289.67 L385.70,289.20 L385.95,289.05 L386.20,288.36 L386.45,286.72 L386.70,287.14 L386.95,285.68 L387.20,284.67 L387.45,284.47 L387.70,283.58 L387.95,282.41 L388.20,281.31 L388.45,279.38 L388.70,278.58 L388.95,278.06 L389.20,277.08 L389.45,275.54 L389.70,276.75 L389.95,277.88 L390.20,281.22 L390.45,283.17 L390.70,285.08 L390.95,287.27 L391.20,289.63 L391.45,291.21 L391.70,292.97 L391.95,293.87 L392.20,295.25 L392.45,295.84 L392.70,296.90 L392.95,296.26 L393.20,296.98 L393.45,296.85 L393.70,296.06 L393.95,296.75 L394.20,296.42 L394.45,296.63 L394.70,295.54 L394.95,295.65 L395.20,296.00 L395.45,295.92 L395.70,295.42 L395.95,294.84 L396.20,295.12 L396.45,294.59 L396.70,294.50 L396.95,294.48 L397.20,294.82 L397.45,294.11 L397.70,295.70 L397.95,296.84 L398.20,297.06 L398.45,297.75 L398.70,298.98 L398.95,299.14 L399.20,300.85 L399.45,301.24 L399.70,302.19 L399.95,303.05 L400.20,302.83 L400.45,303.70 L400.70,304.62 L400.95,305.47 L401.20,305.77 L401.45,306.22 L401.70,306.45 L401.95,307.43 L402.20,308.52 L402.45,307.86 L402.70,308.93 L402.95,308.81 L403.20,310.04 L403.45,310.09 L403.70,309.54 L403.95,310.45 L404.20,309.51 L404.45,309.70 L404.70,308.89 L404.95,308.61 L405.20,308.00 L405.45,307.92 L405.70,307.70 L405.95,306.86 L406.20,306.46 L406.45,306.06 L406.70,306.70 L406.95,305.73 L407.20,305.92 L407.45,304.97 L407.70,304.63 L407.95,303.97 L408.20,304.36 L408.45,304.30 L408.70,305.88 L408.95,306.59 L409.20,307.44 L409.45,308.91 L409.70,309.52 L409.95,310.98 L410.20,311.94 L410.45,313.24 L410.70,314.44 L410.95,314.20 L411.20,315.44 L411.45,316.32 L411.70,316.61 L411.95,316.30 L412.20,316.48 L412.45,316.79 L412.70,315.87 L412.95,315.56 L413.20,314.56 L413.45,314.53 L413.70,313.60 L413.95,313.16 L414.20,311.82 L414.45,310.98 L414.70,310.11 L414.95,309.76 L415.20,308.27 L415.45,307.69 L415.70,307.14 L415.95,305.71 L416.20,304.89 L416.45,304.93 L416.70,306.14 L416.95,308.07 L417.20,309.00 L417.45,310.78 L417.70,312.71 L417.95,313.42 L418.20,314.37 L418.45,316.19 L418.70,317.32 L418.95,318.08 L419.20,318.41 L419.45,319.34 L419.70,319.70 L419.95,320.78 L420.20,319.75 L420.45,320.55 L420.70,319.35 L420.95,318.58 L421.20,318.63 L421.45,317.67 L421.70,315.74 L421.95,314.91 L422.20,313.42 L422.45,312.85 L422.70,311.59 L422.95,309.31 L423.20,307.75 L423.45,305.63 L423.70,303.89 L423.95,301.94 L424.20,302.09 L424.45,302.09 L424.70,304.29 L424.95,305.85 L425.20,307.86 L425.45,309.53 L425.70,310.80 L425.95,312.14 L426.20,314.24 L426.45,315.50 L426.70,316.06 L426.95,316.98 L427.20,318.00 L427.45,318.77 L427.70,319.86 L427.95,319.64 L428.20,319.70 L428.45,320.34 L428.70,319.68 L428.95,318.64 L429.20,318.61 L429.45,318.32 L429.70,317.31 L429.95,316.17 L430.20,315.44 L430.45,314.95 L430.70,313.75 L430.95,312.05 L431.20,311.30 L431.45,310.63 L431.70,308.58 L431.95,307.70 L432.20,306.54 L432.45,304.83 L432.70,303.84 L432.95,302.09 L433.20,303.31 L433.45,304.44 L433.70,306.58 L433.95,308.05 L434.20,309.78 L434.45,311.28 L434.70,312.61 L434.95,314.58 L435.20,315.68 L435.45,317.57 L435.70,317.83 L435.95,318.65 L436.20,320.37 L436.45,321.26 L436.70,321.07 L436.95,321.78 L437.20,321.49 L437.45,321.22 L437.70,320.51 L437.95,319.86 L438.20,319.40 L438.45,318.95 L438.70,318.43 L438.95,317.63 L439.20,316.67 L439.45,316.11 L439.70,314.19 L439.95,313.31 L440.20,312.72 L440.45,311.51 L440.70,311.67 L440.95,311.42 L441.20,313.10 L441.45,313.28 L441.70,315.17 L441.95,315.36 L442.20,317.42 L442.45,317.70 L442.70,318.52 L442.95,319.45 L443.20,320.74 L443.45,321.71 L443.70,322.20 L443.95,322.23 L444.20,323.10 L444.45,323.74 L444.70,323.89 L444.95,324.88 L445.20,324.63 L445.45,324.51 L445.70,323.82 L445.95,324.01 L446.20,323.49 L446.45,323.44 L446.70,323.83 L446.95,323.03 L447.20,323.39 L447.45,322.69 L447.70,323.18 L447.95,322.25 L448.20,322.95 L448.45,321.78 L448.70,321.79 L448.95,322.15 L449.20,321.62 L449.45,321.30 L449.70,321.43 L449.95,322.24 L450.20,322.49 L450.45,323.70 L450.70,324.00 L450.95,324.17 L451.20,324.83 L451.45,324.77 L451.70,325.46 L451.95,326.33 L452.20,326.85 L452.45,326.34 L452.70,326.90 L452.95,327.75 L453.20,327.35 L453.45,327.46 L453.70,327.12 L453.95,327.96 L454.20,327.04 L454.45,327.67 L454.70,326.92 L454.95,327.08 L455.20,327.82 L455.45,326.80 L455.70,327.55 L455.95,326.82 L456.20,327.49 L456.45,326.85 L456.70,327.05 L456.95,327.33 L457.20,326.41 L457.45,326.70 L457.70,327.28 L457.95,326.46 L458.20,326.77 L458.45,327.13 L458.70,326.83 L458.95,327.11 L459.20,326.88 L459.45,327.42 L459.70,327.19 L459.95,328.74 L460.20,328.59 L460.45,329.20 L460.70,329.66 L460.95,329.85 L461.20,331.06 L461.45,331.12 L461.70,331.38 L461.95,331.31 L462.20,332.37 L462.45,332.59 L462.70,333.16 L462.95,332.76 L463.20,332.36 L463.45,332.56 L463.70,331.81 L463.95,331.73 L464.20,331.96 L464.45,331.86 L464.70,332.05 L464.95,330.74 L465.20,331.55 L465.45,330.79 L465.70,330.14 L465.95,330.37 L466.20,330.41 L466.45,329.92 L466.70,329.69 L466.95,330.04 L467.20,329.35 L467.45,329.89 L467.70,329.22 L467.95,329.46 L468.20,330.51 L468.45,331.38 L468.70,331.49 L468.95,331.92 L469.20,332.84 L469.45,333.68 L469.70,333.90 L469.95,334.42 L470.20,334.65 L470.45,335.42 L470.70,335.97 L470.95,335.56 L471.20,337.00 L471.45,336.66 L471.70,336.79 L471.95,336.71 L472.20,336.65 L472.45,335.91 L472.70,335.59 L472.95,334.69 L473.20,334.08 L473.45,333.79 L473.70,332.69 L473.95,331.95 L474.20,332.07 L474.45,330.70 L474.70,330.55 L474.95,330.16 L475.20,329.30 L475.45,327.64 L475.70,327.60 L475.95,327.74 L476.20,328.06 L476.45,328.84 L476.70,330.29 L476.95,330.06 L477.20,331.59 L477.45,332.19 L477.70,332.13 L477.95,332.99 L478.20,333.79 L478.45,334.83 L478.70,334.30 L478.95,335.89 L479.20,335.36 L479.45,336.07 L479.70,336.07 L479.95,337.40 L480.20,337.35 L480.45,336.49 L480.70,336.53 L480.95,335.43 L481.20,335.70 L481.45,335.11 L481.70,335.00 L481.95,334.34 L482.20,334.40 L482.45,333.79 L482.70,333.42 L482.95,333.02 L483.20,332.45 L483.45,332.23 L483.70,332.07 L483.95,331.80 L484.20,331.36 L484.45,332.47 L484.70,332.44 L484.95,333.50 L485.20,334.12 L485.45,334.51 L485.70,335.18 L485.95,335.20 L486.20,336.36 L486.45,336.69 L486.70,336.70 L486.95,336.85 L487.20,338.01 L487.45,337.96 L487.70,337.80 L487.95,338.44 L488.20,338.34 L488.45,338.89 L488.70,338.61 L488.95,338.39 L489.20,339.03 L489.45,338.40 L489.70,339.08 L489.95,338.66 L490.20,338.20 L490.45,338.00 L490.70,337.72 L490.95,337.87 L491.20,338.02 L491.45,337.33 L491.70,338.11 L491.95,337.94 L492.20,338.22 L492.45,338.54 L492.70,339.04 L492.95,339.75 L493.20,339.65 L493.45,340.47 L493.70,340.57 L493.95,340.71 L494.20,341.74 L494.45,342.01 L494.70,341.43 L494.95,342.03 L495.20,342.42 L495.45,342.44 L495.70,342.73 L495.95,343.69 L496.20,343.49 L496.45,344.12 L496.70,343.61 L496.95,344.09 L497.20,343.98 L497.45,344.22 L497.70,343.45 L497.95,343.15 L498.20,343.99 L498.45,344.01 L498.70,342.91 L498.95,343.82 L499.20,343.25 L499.45,342.68 L499.70,342.81 L499.95,342.62 L500.20,342.96 L500.45,343.44 L500.70,342.63 L500.95,342.89 L501.20,342.34 L501.45,342.05 L501.70,343.16 L501.95,343.33 L502.20,342.84 L502.45,343.48 L502.70,344.27 L502.95,344.95 L503.20,344.86 L503.45,344.97 L503.70,345.64 L503.95,346.40 L504.20,347.15 L504.45,346.52 L504.70,347.72 L504.95,347.94 L505.20,347.94 L505.45,348.41 L505.70,348.17 L505.95,348.87 L506.20,349.23 L506.45,348.59 L506.70,348.77 L506.95,348.79 L507.20,348.00 L507.45,348.24 L507.70,347.97 L507.95,347.77 L508.20,348.08 L508.45,347.29 L508.70,347.73 L508.95,347.85 L509.20,347.11 L509.45,346.76 L509.70,347.62 L509.95,347.48 L510.20,346.73 L510.45,347.21 L510.70,346.42 L510.95,346.51 L511.20,347.41 L511.45,347.05 L511.70,347.66 L511.95,348.35 L512.20,348.21 L512.45,348.23 L512.70,349.63 L512.95,349.24 L513.20,349.47 L513.45,350.06 L513.70,350.72 L513.95,350.49 L514.20,350.84 L514.45,351.24 L514.70,351.43 L514.95,350.91 L515.20,351.02 L515.45,350.19 L515.70,350.06 L515.95,349.78 L516.20,349.85 L516.45,349.67 L516.70,350.23 L516.95,350.26 L517.20,349.11 L517.45,349.62 L517.70,349.88 L517.95,349.66 L518.20,348.67 L518.45,348.98 L518.70,348.95 L518.95,348.00 L519.20,347.93 L519.45,348.61 L519.70,348.41 L519.95,348.82 L520.20,348.42 L520.45,348.80 L520.70,349.78 L520.95,349.58 L521.20,349.98 L521.45,350.58 L521.70,350.02 L521.95,350.32 L522.20,351.03 L522.45,351.45 L522.70,351.30 L522.95,351.75 L523.20,352.17 L523.45,352.31 L523.70,351.45 L523.95,351.86 L524.20,351.05 L524.45,351.17 L524.70,351.29 L524.95,350.59 L525.20,350.74 L525.45,350.11 L525.70,350.32 L525.95,349.95 L526.20,349.65 L526.45,349.07 L526.70,349.16 L526.95,349.42 L527.20,348.45 L527.45,348.95 L527.70,348.81 L527.95,348.94 L528.20,348.68 L528.45,349.04 L528.70,349.37 L528.95,349.82 L529.20,350.56 L529.45,350.54 L529.70,350.89 L529.95,351.49 L530.20,351.25 L530.45,351.24 L530.70,352.64 L530.95,352.29 L531.20,352.71 L531.45,352.96 L531.70,353.49 L531.95,353.03 L532.20,353.05 L532.45,352.87 L532.70,353.25 L532.95,352.69 L533.20,353.15 L533.45,352.79 L533.70,352.66 L533.95,351.51 L534.20,351.27 L534.45,351.69 L534.70,351.31 L534.95,350.65 L535.20,350.50 L535.45,349.80 L535.70,350.69 L535.95,349.39 L536.20,350.19 L536.45,349.98 L536.70,350.72 L536.95,350.36 L537.20,351.31 L537.45,351.64 L537.70,352.32 L537.95,352.04 L538.20,353.37 L538.45,353.81 L538.70,353.23 L538.95,353.44 L539.20,354.32 L539.45,354.52 L539.70,355.07 L539.95,355.76 L540.20,355.61 L540.45,355.64 L540.70,355.74 L540.95,355.24 L541.20,354.74 L541.45,354.34 L541.70,354.32 L541.95,354.54 L542.20,353.92 L542.45,353.78 L542.70,354.10 L542.95,354.06 L543.20,353.25 L543.45,353.84 L543.70,353.46 L543.95,352.89 L544.20,353.13 L544.45,352.99 L544.70,354.06 L544.95,354.50 L545.20,354.64 L545.45,354.08 L545.70,355.38 L545.95,354.94 L546.20,355.50 L546.45,355.41 L546.70,355.73 L546.95,355.94 L547.20,355.84 L547.45,356.73 L547.70,356.89 L547.95,357.31 L548.20,357.20 L548.45,358.10 L548.70,357.88 L548.95,357.91 L549.20,357.26 L549.45,357.91 L549.70,357.61 L549.95,357.44 L550.20,356.54 L550.45,357.01 L550.70,356.29 L550.95,356.34 L551.20,356.86 L551.45,356.37 L551.70,356.78 L551.95,356.67 L552.20,355.63 L552.45,355.73 L552.70,356.16 L552.95,355.76 L553.20,356.27 L553.45,356.39 L553.70,356.55 L553.95,356.64 L554.20,356.35 L554.45,356.74 L554.70,356.53 L554.95,357.58 L555.20,357.07 L555.45,357.63 L555.70,357.43 L555.95,357.70 L556.20,358.77 L556.45,358.40 L556.70,358.99 L556.95,358.90 L557.20,359.26 L557.45,359.94 L557.70,359.28 L557.95,359.31 L558.20,359.91 L558.45,359.31 L558.70,359.74 L558.95,359.75 L559.20,358.99 L559.45,358.99 L559.70,359.60 L559.95,359.50 L560.20,359.06 L560.45,358.88 L560.70,358.82 L560.95,359.47 L561.20,359.37 L561.45,358.88 L561.70,358.67 L561.95,359.28 L562.20,359.01 L562.45,359.23 L562.70,359.06 L562.95,359.15 L563.20,359.35 L563.45,359.73 L563.70,360.02 L563.95,359.42 L564.20,359.60 L564.45,360.24 L564.70,360.79 L564.95,360.54 L565.20,361.27 L565.45,360.50 L565.70,360.97 L565.95,361.68 L566.20,361.70 L566.45,360.91 L566.70,361.40 L566.95,361.17 L567.20,361.20 L567.45,361.91 L567.70,361.41 L567.95,361.25 L568.20,361.03 L568.45,361.63 L568.70,361.19 L568.95,361.65 L569.20,361.45 L569.45,361.55 L569.70,360.48 L569.95,360.88 L570.20,361.29 L570.45,360.80 L570.70,361.33 L570.95,360.71 L571.20,361.06 L571.45,360.24 L571.70,361.12 L571.95,360.86 L572.20,361.59 L572.45,361.45 L572.70,361.60 L572.95,361.59 L573.20,362.08 L573.45,361.09 L573.70,361.97 L573.95,362.26 L574.20,361.43 L574.45,362.05 L574.70,361.90 L574.95,362.36 L575.20,361.97 L575.45,362.30 L575.70,362.54 L575.95,361.93 L576.20,362.52 L576.45,361.65 L576.70,361.34 L576.95,361.84 L577.20,361.60 L577.45,361.45 L577.70,361.01 L577.95,361.34 L578.20,361.41 L578.45,361.14 L578.70,360.88 L578.95,359.83 L579.20,360.67 L579.45,359.59 L579.70,360.55 L579.95,360.16 L580.20,360.82 L580.45,360.59 L580.70,360.84 L580.95,361.85 L581.20,362.04 L581.45,362.25 L581.70,362.94 L581.95,363.40 L582.20,363.17 L582.45,364.17 L582.70,364.05 L582.95,364.95 L583.20,364.81 L583.45,365.29 L583.70,364.49 L583.95,364.68 L584.20,363.95 L584.45,364.33 L584.70,364.45 L584.95,364.25 L585.20,363.96 L585.45,363.44 L585.70,363.60 L585.95,363.03 L586.20,362.60 L586.45,361.93 L586.70,362.27 L586.95,362.30 L587.20,361.27 L587.45,361.83 L587.70,362.88 L587.95,363.06 L588.20,363.49 L588.45,363.84 L588.70,363.70 L588.95,364.85 L589.20,365.16 L589.45,365.74 L589.70,365.60 L589.95,365.67 L590.20,365.71 L590.45,365.21 L590.70,365.55 L590.95,365.97 L591.20,365.25 L591.45,366.11 L591.45,370.90 L591.20,370.24 L590.95,369.92 L590.70,370.46 L590.45,370.47 L590.20,369.91 L589.95,370.05 L589.70,369.75 L589.45,369.86 L589.20,369.44 L588.95,368.90 L588.70,368.93 L588.45,368.45 L588.20,368.96 L587.95,368.52 L587.70,368.26 L587.45,368.31 L587.20,368.43 L586.95,367.73 L586.70,368.56 L586.45,368.33 L586.20,368.31 L585.95,368.63 L585.70,368.90 L585.45,369.06 L585.20,368.93 L584.95,369.02 L584.70,369.14 L584.45,369.35 L584.20,368.51 L583.95,369.34 L583.70,369.53 L583.45,368.95 L583.20,368.91 L582.95,368.44 L582.70,369.21 L582.45,368.15 L582.20,368.33 L581.95,368.25 L581.70,367.95 L581.45,368.35 L581.20,368.13 L580.95,368.27 L580.70,367.75 L580.45,367.33 L580.20,367.76 L579.95,367.83 L579.70,368.15 L579.45,368.09 L579.20,367.78 L578.95,367.15 L578.70,367.74 L578.45,367.63 L578.20,368.30 L577.95,368.13 L577.70,368.09 L577.45,368.25 L577.20,367.93 L576.95,367.88 L576.70,368.50 L576.45,368.97 L576.20,368.28 L575.95,367.97 L575.70,369.04 L575.45,368.21 L575.20,368.24 L574.95,367.85 L574.70,368.24 L574.45,368.84 L574.20,368.45 L573.95,368.22 L573.70,367.93 L573.45,367.45 L573.20,368.07 L572.95,367.35 L572.70,367.85 L572.45,367.59 L572.20,367.85 L571.95,367.43 L571.70,367.34 L571.45,367.01 L571.20,367.48 L570.95,367.25 L570.70,367.36 L570.45,367.40 L570.20,367.17 L569.95,367.75 L569.70,367.19 L569.45,366.88 L569.20,367.54 L568.95,367.83 L568.70,367.70 L568.45,367.10 L568.20,366.99 L567.95,367.51 L567.70,366.88 L567.45,367.57 L567.20,367.74 L566.95,366.69 L566.70,367.16 L566.45,367.23 L566.20,367.05 L565.95,367.52 L565.70,367.58 L565.45,367.32 L565.20,367.30 L564.95,366.64 L564.70,366.46 L564.45,366.47 L564.20,366.11 L563.95,366.74 L563.70,366.59 L563.45,366.61 L563.20,366.16 L562.95,366.11 L562.70,366.66 L562.45,366.09 L562.20,365.38 L561.95,365.52 L561.70,365.43 L561.45,365.82 L561.20,365.59 L560.95,365.29 L560.70,366.04 L560.45,365.24 L560.20,365.45 L559.95,365.90 L559.70,365.70 L559.45,365.16 L559.20,365.87 L558.95,366.10 L558.70,366.01 L558.45,365.22 L558.20,365.67 L557.95,365.26 L557.70,365.63 L557.45,365.82 L557.20,365.64 L556.95,365.05 L556.70,365.39 L556.45,364.75 L556.20,365.26 L555.95,365.24 L555.70,364.24 L555.45,364.55 L555.20,364.69 L554.95,364.37 L554.70,364.78 L554.45,363.70 L554.20,363.58 L553.95,364.55 L553.70,364.45 L553.45,363.82 L553.20,363.15 L552.95,363.82 L552.70,363.60 L552.45,363.46 L552.20,364.24 L551.95,363.49 L551.70,363.62 L551.45,364.17 L551.20,363.41 L550.95,363.90 L550.70,363.86 L550.45,363.45 L550.20,363.31 L549.95,363.65 L549.70,363.62 L549.45,363.51 L549.20,363.97 L548.95,363.71 L548.70,363.79 L548.45,364.52 L548.20,363.55 L547.95,364.29 L547.70,363.73 L547.45,363.91 L547.20,363.44 L546.95,362.76 L546.70,362.87 L546.45,363.14 L546.20,363.40 L545.95,363.49 L545.70,362.50 L545.45,363.08 L545.20,362.43 L544.95,362.98 L544.70,362.82 L544.45,362.40 L544.20,362.53 L543.95,361.72 L543.70,361.95 L543.45,362.22 L543.20,362.63 L542.95,361.64 L542.70,361.85 L542.45,362.74 L542.20,361.78 L541.95,362.64 L541.70,362.76 L541.45,363.03 L541.20,362.66 L540.95,362.68 L540.70,362.35 L540.45,362.91 L540.20,362.22 L539.95,362.28 L539.70,363.02 L539.45,362.33 L539.20,362.61 L538.95,361.77 L538.70,362.41 L538.45,361.85 L538.20,361.74 L537.95,360.97 L537.70,360.78 L537.45,361.09 L537.20,361.45 L536.95,361.01 L536.70,360.68 L536.45,360.31 L536.20,360.60 L535.95,359.94 L535.70,360.72 L535.45,360.34 L535.20,360.70 L534.95,361.04 L534.70,360.14 L534.45,360.43 L534.20,361.09 L533.95,360.63 L533.70,360.62 L533.45,361.14 L533.20,361.63 L532.95,360.59 L532.70,360.73 L532.45,361.06 L532.20,360.76 L531.95,361.35 L531.70,360.77 L531.45,361.69 L531.20,360.56 L530.95,360.91 L530.70,361.22 L530.45,360.81 L530.20,361.00 L529.95,360.59 L529.70,360.51 L529.45,359.50 L529.20,359.80 L528.95,360.18 L528.70,359.40 L528.45,359.86 L528.20,358.65 L527.95,358.87 L527.70,359.34 L527.45,358.92 L527.20,359.58 L526.95,359.59 L526.70,359.79 L526.45,359.83 L526.20,359.01 L525.95,359.94 L525.70,359.73 L525.45,359.19 L525.20,359.27 L524.95,359.90 L524.70,359.75 L524.45,359.30 L524.20,359.70 L523.95,359.53 L523.70,359.81 L523.45,359.85 L523.20,360.02 L522.95,359.59 L522.70,359.39 L522.45,360.02 L522.20,359.40 L521.95,359.28 L521.70,359.53 L521.45,359.09 L521.20,358.76 L520.95,358.30 L520.70,359.14 L520.45,358.33 L520.20,358.81 L519.95,357.79 L519.70,358.50 L519.45,358.68 L519.20,358.80 L518.95,357.86 L518.70,357.76 L518.45,358.42 L518.20,358.88 L517.95,358.00 L517.70,358.33 L517.45,358.94 L517.20,358.64 L516.95,358.35 L516.70,358.07 L516.45,358.04 L516.20,358.05 L515.95,359.02 L515.70,359.24 L515.45,358.38 L515.20,358.46 L514.95,358.34 L514.70,358.70 L514.45,358.93 L514.20,359.32 L513.95,358.93 L513.70,358.37 L513.45,358.35 L513.20,358.94 L512.95,358.46 L512.70,357.70 L512.45,358.33 L512.20,358.44 L511.95,357.34 L511.70,357.40 L511.45,357.06 L511.20,356.95 L510.95,357.27 L510.70,356.90 L510.45,357.70 L510.20,357.40 L509.95,357.07 L509.70,357.54 L509.45,357.37 L509.20,357.85 L508.95,357.92 L508.70,357.07 L508.45,357.21 L508.20,357.03 L507.95,357.32 L507.70,356.97 L507.45,357.19 L507.20,357.89 L506.95,356.86 L506.70,357.70 L506.45,357.43 L506.20,357.96 L505.95,357.72 L505.70,356.97 L505.45,357.54 L505.20,356.65 L504.95,357.09 L504.70,356.99 L504.45,356.95 L504.20,356.61 L503.95,356.65 L503.70,356.36 L503.45,356.43 L503.20,356.47 L502.95,356.27 L502.70,355.92 L502.45,355.60 L502.20,355.47 L501.95,354.61 L501.70,355.09 L501.45,354.53 L501.20,355.00 L500.95,354.68 L500.70,354.51 L500.45,354.99 L500.20,355.09 L499.95,354.59 L499.70,354.67 L499.45,355.61 L499.20,355.42 L498.95,354.77 L498.70,355.07 L498.45,355.48 L498.20,354.94 L497.95,355.71 L497.70,355.41 L497.45,355.63 L497.20,355.71 L496.95,355.71 L496.70,355.49 L496.45,355.45 L496.20,355.68 L495.95,354.73 L495.70,354.66 L495.45,354.72 L495.20,355.04 L494.95,354.73 L494.70,355.12 L494.45,355.08 L494.20,354.94 L493.95,354.45 L493.70,354.52 L493.45,354.29 L493.20,353.67 L492.95,354.64 L492.70,353.84 L492.45,353.89 L492.20,354.30 L491.95,353.77 L491.70,354.00 L491.45,353.17 L491.20,353.53 L490.95,353.43 L490.70,354.07 L490.45,354.08 L490.20,353.61 L489.95,353.75 L489.70,354.41 L489.45,354.21 L489.20,353.80 L488.95,354.01 L488.70,354.21 L488.45,353.68 L488.20,353.94 L487.95,353.73 L487.70,353.80 L487.45,353.42 L487.20,353.52 L486.95,353.75 L486.70,353.24 L486.45,352.87 L486.20,353.08 L485.95,353.01 L485.70,352.55 L485.45,352.89 L485.20,352.94 L484.95,352.12 L484.70,352.18 L484.45,351.94 L484.20,351.26 L483.95,351.59 L483.70,351.50 L483.45,351.62 L483.20,352.13 L482.95,351.95 L482.70,351.93 L482.45,352.02 L482.20,352.88 L481.95,352.24 L481.70,353.30 L481.45,353.41 L481.20,353.32 L480.95,352.62 L480.70,353.30 L480.45,353.65 L480.20,353.50 L479.95,353.26 L479.70,353.49 L479.45,352.95 L479.20,352.14 L478.95,352.12 L478.70,351.68 L478.45,351.51 L478.20,351.07 L477.95,351.75 L477.70,350.51 L477.45,350.27 L477.20,350.30 L476.95,349.62 L476.70,349.94 L476.45,350.43 L476.20,349.69 L475.95,349.55 L475.70,349.23 L475.45,349.77 L475.20,348.99 L474.95,349.28 L474.70,349.22 L474.45,348.81 L474.20,349.14 L473.95,349.45 L473.70,349.88 L473.45,349.57 L473.20,350.17 L472.95,349.78 L472.70,350.22 L472.45,349.84 L472.20,349.89 L471.95,349.73 L471.70,349.66 L471.45,350.15 L471.20,349.82 L470.95,349.89 L470.70,349.35 L470.45,349.85 L470.20,348.92 L469.95,348.95 L469.70,348.47 L469.45,348.72 L469.20,348.51 L468.95,347.43 L468.70,347.95 L468.45,347.85 L468.20,347.37 L467.95,347.36 L467.70,346.83 L467.45,346.77 L467.20,346.94 L466.95,346.90 L466.70,346.94 L466.45,346.83 L466.20,347.19 L465.95,347.00 L465.70,346.78 L465.45,346.73 L465.20,346.27 L464.95,346.65 L464.70,346.19 L464.45,346.60 L464.20,346.37 L463.95,346.54 L463.70,346.97 L463.45,346.56 L463.20,347.14 L462.95,347.28 L462.70,346.34 L462.45,346.03 L462.20,346.54 L461.95,345.75 L461.70,346.11 L461.45,345.64 L461.20,345.71 L460.95,345.52 L460.70,345.11 L460.45,345.49 L460.20,344.99 L459.95,345.17 L459.70,344.43 L459.45,344.17 L459.20,343.46 L458.95,343.50 L458.70,344.41 L458.45,343.25 L458.20,344.02 L457.95,343.93 L457.70,343.64 L457.45,344.28 L457.20,343.17 L456.95,343.57 L456.70,343.12 L456.45,343.78 L456.20,343.05 L455.95,343.67 L455.70,343.99 L455.45,343.05 L455.20,343.20 L454.95,343.45 L454.70,343.36 L454.45,343.21 L454.20,343.19 L453.95,342.79 L453.70,343.69 L453.45,343.17 L453.20,343.78 L452.95,343.43 L452.70,343.07 L452.45,343.13 L452.20,343.49 L451.95,342.73 L451.70,342.06 L451.45,341.91 L451.20,342.20 L450.95,342.59 L450.70,341.93 L450.45,341.91 L450.20,341.65 L449.95,341.13 L449.70,341.45 L449.45,341.70 L449.20,341.82 L448.95,341.90 L448.70,341.24 L448.45,341.99 L448.20,341.49 L447.95,341.98 L447.70,341.52 L447.45,341.30 L447.20,341.23 L446.95,341.61 L446.70,341.42 L446.45,341.53 L446.20,341.61 L445.95,342.03 L445.70,342.55 L445.45,342.30 L445.20,342.66 L444.95,342.36 L444.70,342.03 L444.45,342.30 L444.20,341.65 L443.95,341.95 L443.70,341.11 L443.45,341.01 L443.20,341.01 L442.95,340.95 L442.70,340.04 L442.45,339.66 L442.20,339.34 L441.95,339.86 L441.70,340.31 L441.45,339.99 L441.20,340.10 L440.95,340.14 L440.70,339.87 L440.45,340.08 L440.20,339.29 L439.95,339.80 L439.70,339.30 L439.45,338.97 L439.20,339.27 L438.95,339.69 L438.70,339.50 L438.45,340.68 L438.20,340.92 L437.95,340.05 L437.70,340.76 L437.45,341.01 L437.20,341.11 L436.95,340.58 L436.70,341.54 L436.45,340.86 L436.20,340.27 L435.95,340.88 L435.70,339.60 L435.45,339.53 L435.20,339.25 L434.95,339.23 L434.70,338.94 L434.45,338.86 L434.20,339.03 L433.95,339.12 L433.70,338.44 L433.45,338.73 L433.20,338.44 L432.95,338.63 L432.70,338.77 L432.45,339.10 L432.20,339.30 L431.95,339.07 L431.70,338.23 L431.45,338.26 L431.20,338.44 L430.95,338.88 L430.70,338.91 L430.45,339.05 L430.20,339.24 L429.95,339.31 L429.70,339.94 L429.45,339.12 L429.20,339.50 L428.95,340.33 L428.70,340.27 L428.45,340.54 L428.20,340.39 L427.95,339.92 L427.70,339.43 L427.45,339.65 L427.20,338.59 L426.95,338.91 L426.70,338.22 L426.45,338.13 L426.20,337.67 L425.95,337.39 L425.70,336.96 L425.45,337.76 L425.20,337.80 L424.95,337.70 L424.70,336.77 L424.45,337.71 L424.20,336.69 L423.95,336.49 L423.70,337.15 L423.45,336.45 L423.20,337.26 L422.95,337.25 L422.70,336.45 L422.45,337.14 L422.20,337.13 L421.95,337.14 L421.70,336.43 L421.45,337.64 L421.20,337.19 L420.95,337.73 L420.70,338.40 L420.45,337.47 L420.20,337.56 L419.95,337.85 L419.70,338.34 L419.45,337.30 L419.20,337.40 L418.95,336.76 L418.70,336.23 L418.45,335.77 L418.20,335.70 L417.95,335.74 L417.70,335.51 L417.45,334.65 L417.20,335.21 L416.95,334.60 L416.70,334.47 L416.45,334.56 L416.20,334.45 L415.95,335.35 L415.70,334.73 L415.45,334.52 L415.20,334.95 L414.95,334.90 L414.70,334.38 L414.45,334.82 L414.20,333.80 L413.95,333.92 L413.70,334.75 L413.45,334.49 L413.20,334.49 L412.95,335.72 L412.70,335.90 L412.45,335.60 L412.20,335.45 L411.95,335.18 L411.70,335.88 L411.45,335.18 L411.20,335.09 L410.95,334.62 L410.70,334.94 L410.45,334.06 L410.20,333.41 L409.95,333.69 L409.70,333.03 L409.45,333.18 L409.20,333.05 L408.95,333.13 L408.70,332.16 L408.45,332.26 L408.20,332.25 L407.95,332.78 L407.70,332.03 L407.45,332.71 L407.20,331.94 L406.95,332.65 L406.70,331.48 L406.45,331.89 L406.20,332.47 L405.95,332.59 L405.70,333.00 L405.45,332.68 L405.20,332.76 L404.95,332.20 L404.70,332.67 L404.45,333.01 L404.20,332.89 L403.95,333.32 L403.70,333.27 L403.45,333.19 L403.20,333.15 L402.95,333.30 L402.70,333.04 L402.45,333.09 L402.20,333.07 L401.95,332.20 L401.70,332.89 L401.45,332.09 L401.20,331.54 L400.95,332.20 L400.70,332.02 L400.45,332.06 L400.20,331.74 L399.95,331.59 L399.70,330.88 L399.45,330.25 L399.20,329.87 L398.95,329.59 L398.70,329.27 L398.45,329.84 L398.20,329.91 L397.95,329.51 L397.70,328.82 L397.45,329.56 L397.20,329.39 L396.95,328.62 L396.70,329.20 L396.45,328.88 L396.20,328.26 L395.95,328.43 L395.70,328.19 L395.45,329.29 L395.20,328.79 L394.95,328.83 L394.70,328.50 L394.45,329.69 L394.20,329.35 L393.95,328.89 L393.70,329.88 L393.45,329.80 L393.20,329.86 L392.95,329.31 L392.70,329.19 L392.45,329.69 L392.20,328.55 L391.95,328.29 L391.70,328.39 L391.45,326.93 L391.20,326.52 L390.95,327.08 L390.70,326.17 L390.45,327.20 L390.20,326.23 L389.95,326.54 L389.70,326.46 L389.45,326.44 L389.20,326.13 L388.95,325.60 L388.70,325.90 L388.45,325.69 L388.20,326.20 L387.95,325.65 L387.70,325.74 L387.45,325.99 L387.20,325.42 L386.95,325.66 L386.70,326.25 L386.45,325.71 L386.20,326.73 L385.95,325.92 L385.70,326.32 L385.45,327.26 L385.20,326.77 L384.95,327.02 L384.70,327.26 L384.45,326.71 L384.20,326.54 L383.95,325.53 L383.70,324.66 L383.45,324.75 L383.20,324.16 L382.95,324.62 L382.70,324.61 L382.45,324.06 L382.20,324.48 L381.95,324.48 L381.70,324.19 L381.45,323.40 L381.20,323.41 L380.95,323.80 L380.70,323.69 L380.45,323.84 L380.20,323.71 L379.95,323.33 L379.70,323.65 L379.45,323.24 L379.20,323.73 L378.95,323.59 L378.70,323.58 L378.45,323.36 L378.20,323.77 L377.95,324.07 L377.70,325.34 L377.45,325.47 L377.20,325.25 L376.95,325.88 L376.70,324.76 L376.45,325.62 L376.20,325.48 L375.95,324.52 L375.70,323.95 L375.45,322.79 L375.20,323.74 L374.95,322.78 L374.70,322.94 L374.45,322.82 L374.20,323.49 L373.95,323.70 L373.70,323.71 L373.45,322.88 L373.20,322.56 L372.95,322.84 L372.70,323.22 L372.45,322.52 L372.20,323.35 L371.95,323.40 L371.70,322.68 L371.45,323.36 L371.20,322.71 L370.95,322.55 L370.70,322.89 L370.45,323.02 L370.20,322.52 L369.95,322.96 L369.70,324.30 L369.45,324.39 L369.20,324.14 L368.95,323.96 L368.70,323.37 L368.45,323.60 L368.20,322.81 L367.95,322.53 L367.70,322.01 L367.45,320.97 L367.20,320.18 L366.95,320.48 L366.70,320.24 L366.45,319.70 L366.20,318.93 L365.95,319.53 L365.70,318.94 L365.45,318.68 L365.20,317.91 L364.95,318.48 L364.70,317.48 L364.45,317.22 L364.20,317.65 Z" fill="#80a8dc" stroke="none"/>
<path d="M364.20,262.70 V313.78 M364.70,261.99 V312.44 M365.20,282.94 V309.86 M365.70,279.03 V318.56 M366.20,286.74 V317.61 M366.70,287.27 V313.68 M367.20,297.03 V311.90 M367.70,299.89 V314.22 M368.20,298.20 V318.86 M368.70,298.80 V315.81 M369.20,301.67 V316.96 M369.70,293.58 V322.84 M370.20,296.56 V316.25 M370.70,294.45 V320.97 M371.20,278.77 V320.86 M371.70,269.91 V320.90 M372.20,276.69 V318.60 M372.70,266.08 V309.99 M373.20,254.86 V301.68 M373.70,278.57 V320.19 M374.20,281.95 V316.09 M374.70,287.28 V318.43 M375.20,291.81 V319.38 M375.70,299.82 V322.22 M376.20,304.31 V317.73 M376.70,298.12 V320.23 M377.20,300.63 V321.46 M377.70,298.83 V324.66 M378.20,299.37 V323.23 M378.70,296.70 V316.54 M379.20,288.08 V316.38 M379.70,284.63 V311.54 M380.20,270.65 V322.80 M380.70,271.44 V309.52 M381.20,264.27 V305.47 M381.70,265.09 V317.81 M382.20,284.83 V312.09 M382.70,278.36 V314.98 M383.20,283.44 V322.83 M383.70,287.96 V313.47 M384.20,290.37 V324.13 M384.70,294.52 V322.63 M385.20,294.46 V324.22 M385.70,296.43 V318.59 M386.20,297.63 V317.60 M386.70,298.12 V325.01 M387.20,290.79 V321.91 M387.70,286.51 V321.25 M388.20,289.94 V320.15 M388.70,279.13 V318.35 M389.20,290.39 V312.62 M389.70,289.32 V314.49 M390.20,284.47 V313.76 M390.70,286.93 V323.77 M391.20,299.64 V318.82 M391.70,302.41 V325.49 M392.20,301.98 V322.55 M392.70,303.06 V321.06 M393.20,306.13 V329.11 M393.70,305.73 V327.17 M394.20,296.47 V321.03 M394.70,298.18 V320.80 M395.20,297.07 V319.39 M395.70,299.94 V318.77 M396.20,302.04 V319.57 M396.70,301.99 V319.17 M397.20,295.14 V329.12 M397.70,295.82 V319.73 M398.20,306.30 V327.17 M398.70,299.89 V325.75 M399.20,304.26 V321.45 M399.70,306.29 V328.83 M400.20,309.16 V324.29 M400.70,307.08 V326.07 M401.20,312.05 V329.63 M401.70,311.48 V330.45 M402.20,314.25 V327.21 M402.70,309.52 V332.70 M403.20,310.50 V331.34 M403.70,314.79 V332.50 M404.20,310.08 V327.31 M404.70,311.71 V326.09 M405.20,314.31 V328.47 M405.70,309.68 V329.41 M406.20,312.22 V332.29 M406.70,312.55 V326.60 M407.20,310.69 V325.97 M407.70,309.58 V328.38 M408.20,305.96 V326.99 M408.70,313.65 V326.68 M409.20,309.33 V329.46 M409.70,315.82 V331.12 M410.20,318.16 V330.32 M410.70,318.73 V332.69 M411.20,316.08 V333.03 M411.70,318.34 V330.67 M412.20,320.95 V329.96 M412.70,318.14 V332.65 M413.20,319.20 V331.90 M413.70,317.56 V332.39 M414.20,316.36 V331.87 M414.70,316.92 V327.47 M415.20,311.61 V331.79 M415.70,308.33 V332.28 M416.20,311.98 V330.91 M416.70,308.26 V333.57 M417.20,310.27 V329.46 M417.70,319.20 V332.18 M418.20,316.08 V333.91 M418.70,318.78 V335.11 M419.20,320.66 V333.82 M419.70,323.86 V334.14 M420.20,322.08 V336.67 M420.70,322.60 V334.38 M421.20,323.54 V336.13 M421.70,317.15 V335.39 M422.20,314.05 V330.56 M422.70,313.48 V335.35 M423.20,316.54 V334.33 M423.70,304.10 V335.43 M424.20,305.84 V327.03 M424.70,312.86 V329.21 M425.20,310.97 V331.35 M425.70,313.83 V333.07 M426.20,318.75 V333.38 M426.70,319.21 V333.30 M427.20,322.38 V333.23 M427.70,320.46 V333.90 M428.20,324.69 V336.60 M428.70,323.43 V335.22 M429.20,320.59 V335.11 M429.70,323.97 V336.23 M430.20,319.56 V338.86 M430.70,315.23 V336.83 M431.20,314.79 V336.68 M431.70,313.47 V337.48 M432.20,309.58 V337.49 M432.70,312.50 V330.19 M433.20,311.68 V337.45 M433.70,314.91 V332.59 M434.20,313.55 V332.10 M434.70,314.19 V333.01 M435.20,318.34 V337.86 M435.70,318.56 V335.77 M436.20,321.04 V334.76 M436.70,326.28 V336.59 M437.20,323.33 V337.23 M437.70,323.85 V340.43 M438.20,324.81 V334.61 M438.70,319.37 V334.04 M439.20,319.24 V337.94 M439.70,318.57 V337.45 M440.20,317.33 V333.59 M440.70,314.83 V334.27 M441.20,315.82 V332.39 M441.70,320.99 V339.27 M442.20,322.33 V336.10 M442.70,319.74 V338.11 M443.20,321.73 V336.16 M443.70,325.69 V338.43 M444.20,325.49 V341.04 M444.70,326.11 V336.79 M445.20,329.60 V342.39 M445.70,324.12 V341.92 M446.20,325.91 V337.45 M446.70,324.28 V337.45 M447.20,327.07 V340.43 M447.70,327.77 V337.08 M448.20,327.20 V339.02 M448.70,325.71 V340.30 M449.20,326.40 V335.99 M449.70,321.79 V339.40 M450.20,325.28 V336.31 M450.70,324.41 V339.63 M451.20,328.85 V339.14 M451.70,325.77 V338.52 M452.20,327.30 V343.05 M452.70,331.13 V341.06 M453.20,328.84 V340.78 M453.70,328.83 V339.65 M454.20,330.04 V340.74 M454.70,329.96 V342.63 M455.20,331.99 V339.25 M455.70,327.72 V343.70 M456.20,330.18 V339.15 M456.70,329.25 V341.09 M457.20,327.01 V338.78 M457.70,329.96 V338.88 M458.20,331.83 V341.36 M458.70,327.72 V343.08 M459.20,327.53 V339.27 M459.70,329.79 V341.38 M460.20,329.84 V343.09 M460.70,331.97 V342.46 M461.20,334.99 V344.90 M461.70,333.50 V342.86 M462.20,332.92 V343.02 M462.70,335.85 V344.80 M463.20,333.28 V345.68 M463.70,332.39 V343.55 M464.20,332.83 V345.63 M464.70,333.35 V344.72 M465.20,332.72 V345.55 M465.70,332.43 V342.29 M466.20,335.31 V343.21 M466.70,329.79 V344.48 M467.20,330.22 V344.90 M467.70,333.69 V341.73 M468.20,334.57 V345.56 M468.70,333.34 V345.69 M469.20,334.28 V345.45 M469.70,335.90 V345.65 M470.20,336.68 V348.41 M470.70,339.46 V346.84 M471.20,339.13 V348.77 M471.70,337.90 V348.72 M472.20,340.61 V349.07 M472.70,337.80 V348.14 M473.20,335.69 V349.33 M473.70,333.59 V347.52 M474.20,335.43 V348.53 M474.70,331.34 V348.88 M475.20,329.64 V343.53 M475.70,331.91 V345.73 M476.20,334.12 V346.83 M476.70,332.81 V346.17 M477.20,333.29 V347.24 M477.70,337.06 V345.03 M478.20,334.71 V347.09 M478.70,334.96 V346.64 M479.20,340.27 V347.75 M479.70,340.33 V351.70 M480.20,341.65 V352.38 M480.70,336.67 V350.90 M481.20,335.79 V349.56 M481.70,336.02 V351.72 M482.20,339.52 V349.17 M482.70,334.93 V346.41 M483.20,332.55 V348.95 M483.70,337.70 V348.48 M484.20,334.07 V349.82 M484.70,337.47 V350.71 M485.20,339.63 V349.30 M485.70,336.77 V349.68 M486.20,339.08 V351.89 M486.70,340.36 V352.13 M487.20,340.58 V351.26 M487.70,338.22 V349.62 M488.20,340.25 V353.24 M488.70,342.42 V351.97 M489.20,343.24 V353.79 M489.70,342.82 V351.01 M490.20,341.16 V351.87 M490.70,342.20 V352.05 M491.20,338.62 V350.22 M491.70,340.65 V352.58 M492.20,341.11 V350.95 M492.70,339.50 V350.34 M493.20,341.79 V352.88 M493.70,343.29 V350.92 M494.20,343.57 V352.25 M494.70,342.52 V353.15 M495.20,343.22 V352.56 M495.70,345.87 V354.11 M496.20,346.32 V354.78 M496.70,343.89 V353.71 M497.20,344.09 V352.84 M497.70,345.14 V351.96 M498.20,346.67 V354.90 M498.70,344.87 V351.70 M499.20,345.13 V352.75 M499.70,343.49 V353.78 M500.20,343.79 V354.26 M500.70,344.31 V352.77 M501.20,343.09 V351.57 M501.70,344.37 V355.01 M502.20,345.23 V355.33 M502.70,346.68 V352.51 M503.20,346.73 V353.22 M503.70,347.49 V354.69 M504.20,349.87 V356.41 M504.70,349.17 V354.63 M505.20,350.23 V356.13 M505.70,349.02 V355.33 M506.20,351.45 V357.58 M506.70,350.30 V355.20 M507.20,349.44 V356.27 M507.70,348.50 V355.30 M508.20,349.34 V355.21 M508.70,349.24 V355.27 M509.20,348.64 V357.77 M509.70,347.93 V354.99 M510.20,347.31 V355.85 M510.70,346.80 V355.33 M511.20,348.47 V355.02 M511.70,347.89 V355.93 M512.20,350.98 V356.84 M512.70,349.77 V356.83 M513.20,350.57 V357.36 M513.70,351.17 V356.29 M514.20,351.83 V357.39 M514.70,352.23 V358.49 M515.20,352.37 V357.62 M515.70,351.44 V357.60 M516.20,352.18 V357.35 M516.70,352.44 V357.53 M517.20,350.26 V358.28 M517.70,351.48 V356.12 M518.20,350.36 V358.87 M518.70,350.73 V357.19 M519.20,350.23 V357.04 M519.70,350.63 V357.15 M520.20,351.52 V358.09 M520.70,349.86 V358.92 M521.20,352.39 V357.89 M521.70,352.81 V359.26 M522.20,353.07 V359.21 M522.70,351.71 V358.62 M523.20,353.15 V358.28 M523.70,351.88 V357.38 M524.20,353.28 V359.43 M524.70,353.55 V358.29 M525.20,352.33 V358.77 M525.70,352.66 V359.01 M526.20,351.91 V357.02 M526.70,351.33 V358.51 M527.20,350.02 V358.22 M527.70,349.92 V357.45 M528.20,351.16 V358.50 M528.70,351.25 V356.79 M529.20,352.43 V357.96 M529.70,353.78 V359.87 M530.20,352.07 V358.60 M530.70,353.06 V359.24 M531.20,354.09 V359.77 M531.70,353.91 V360.29 M532.20,353.07 V359.57 M532.70,354.91 V360.09 M533.20,353.38 V360.23 M533.70,353.70 V358.28 M534.20,353.93 V358.99 M534.70,352.37 V358.90 M535.20,351.93 V358.33 M535.70,352.60 V359.92 M536.20,351.17 V360.26 M536.70,350.82 V360.24 M537.20,352.23 V361.36 M537.70,354.37 V360.38 M538.20,354.35 V361.14 M538.70,354.25 V360.52 M539.20,354.63 V360.18 M539.70,355.28 V362.59 M540.20,357.28 V361.52 M540.70,356.29 V360.42 M541.20,355.80 V361.01 M541.70,356.80 V361.79 M542.20,355.95 V360.78 M542.70,354.32 V360.86 M543.20,353.28 V362.49 M543.70,355.82 V359.53 M544.20,354.72 V360.02 M544.70,355.20 V361.21 M545.20,356.72 V362.19 M545.70,356.63 V360.39 M546.20,356.63 V361.21 M546.70,357.74 V361.01 M547.20,357.21 V362.82 M547.70,358.78 V362.17 M548.20,357.92 V363.18 M548.70,358.49 V363.32 M549.20,358.27 V362.15 M549.70,359.20 V361.96 M550.20,358.32 V363.13 M550.70,357.40 V363.02 M551.20,357.41 V362.18 M551.70,357.64 V361.95 M552.20,358.10 V362.63 M552.70,358.31 V362.54 M553.20,356.78 V361.96 M553.70,358.62 V362.33 M554.20,357.24 V361.58 M554.70,357.11 V364.73 M555.20,357.94 V363.13 M555.70,359.03 V362.86 M556.20,359.88 V363.99 M556.70,360.51 V364.12 M557.20,360.38 V365.18 M557.70,360.31 V364.11 M558.20,360.97 V364.34 M558.70,360.66 V364.92 M559.20,359.55 V364.19 M559.70,361.11 V364.72 M560.20,359.18 V364.41 M560.70,360.34 V364.90 M561.20,360.43 V363.80 M561.70,360.36 V365.28 M562.20,359.52 V364.01 M562.70,359.94 V364.75 M563.20,361.15 V364.16 M563.70,360.46 V365.20 M564.20,360.04 V366.06 M564.70,362.09 V366.33 M565.20,362.42 V366.20 M565.70,362.60 V366.41 M566.20,362.07 V366.87 M566.70,362.75 V365.75 M567.20,362.97 V366.76 M567.70,361.51 V365.68 M568.20,361.78 V366.10 M568.70,362.73 V367.25 M569.20,362.88 V365.78 M569.70,360.83 V366.51 M570.20,362.47 V366.22 M570.70,362.96 V367.20 M571.20,362.52 V367.27 M571.70,362.96 V367.18 M572.20,362.21 V367.82 M572.70,363.31 V366.09 M573.20,363.46 V366.66 M573.70,362.77 V367.02 M574.20,363.07 V367.44 M574.70,363.75 V367.90 M575.20,363.27 V366.55 M575.70,363.85 V367.51 M576.20,364.02 V366.73 M576.70,363.08 V367.56 M577.20,362.46 V367.24 M577.70,362.13 V366.33 M578.20,363.44 V366.51 M578.70,362.68 V366.99 M579.20,362.53 V366.78 M579.70,362.43 V367.24 M580.20,361.69 V366.45 M580.70,362.30 V366.64 M581.20,362.21 V366.89 M581.70,363.71 V367.78 M582.20,363.95 V367.72 M582.70,365.12 V368.46 M583.20,365.11 V368.40 M583.70,364.65 V368.62 M584.20,364.32 V368.06 M584.70,365.48 V368.90 M585.20,365.24 V368.11 M585.70,365.18 V367.63 M586.20,363.93 V366.76 M586.70,363.16 V367.65 M587.20,362.64 V367.58 M587.70,364.36 V366.69 M588.20,364.89 V367.67 M588.70,364.58 V367.75 M589.20,365.77 V368.41 M589.70,366.54 V368.97 M590.20,366.92 V369.23 M590.70,365.55 V369.04 M591.20,366.20 V369.22" stroke="#4a7fc6" stroke-width="0.5" stroke-opacity="0.65" fill="none"/>
<text x="54.3" y="33.3" font-size="6.83" fill="#222" text-anchor="middle" textLength="10.63" lengthAdjust="spacingAndGlyphs" stroke="#222" stroke-width="0.42">542</text>
<text x="67.9" y="101.7" font-size="6.83" fill="#222" text-anchor="middle" textLength="10.63" lengthAdjust="spacingAndGlyphs" stroke="#222" stroke-width="0.42">558</text>
<text x="78.2" y="132.9" font-size="6.83" fill="#222" text-anchor="middle" textLength="10.63" lengthAdjust="spacingAndGlyphs" stroke="#222" stroke-width="0.42">574</text>
<text x="124.6" y="101.5" font-size="6.83" fill="#222" text-anchor="middle" textLength="10.63" lengthAdjust="spacingAndGlyphs" stroke="#222" stroke-width="0.42">634</text>
<text x="134.4" y="134.9" font-size="6.83" fill="#222" text-anchor="middle" textLength="10.63" lengthAdjust="spacingAndGlyphs" stroke="#222" stroke-width="0.42">650</text>
<text x="148.9" y="148.8" font-size="6.83" fill="#222" text-anchor="middle" textLength="10.63" lengthAdjust="spacingAndGlyphs" stroke="#222" stroke-width="0.42">666</text>
<text x="190.5" y="154.1" font-size="6.83" fill="#222" text-anchor="middle" textLength="10.63" lengthAdjust="spacingAndGlyphs" stroke="#222" stroke-width="0.42">725</text>
<text x="208.5" y="154.1" font-size="6.83" fill="#222" text-anchor="middle" textLength="10.63" lengthAdjust="spacingAndGlyphs" stroke="#222" stroke-width="0.42">741</text>
<path d="M52.8,25.2 L63.2,17.9 L88.8,41.2 Q90.5,43.1 99.0,35.2 M92.2,45.0 Q90.5,43.1 99.0,35.2 M92.2,45.0 L115.8,70.0 L107.9,80.5" fill="none" stroke="#3a3a3a" stroke-width="0.9" stroke-linejoin="round"/>
<text x="123.5" y="39.2" font-size="9.00" font-weight="normal" fill="#1a1a1a" text-anchor="middle" textLength="26.11" lengthAdjust="spacingAndGlyphs" stroke="#1a1a1a" stroke-width="0.3">6-mer</text>
<path d="M118.9,91.5 C119.1,86.0 119.4,81.5 121.6,81.5 H144.1 Q146.3,81.5 146.3,79.3 V71.3 M146.3,79.3 Q146.3,81.5 148.5,81.5 H171.3 C173.5,81.5 173.8,86.0 174.0,91.5" fill="none" stroke="#3a3a3a" stroke-width="0.9"/>
<text x="148.8" y="67.4" font-size="9.00" font-weight="normal" fill="#1a1a1a" text-anchor="middle" textLength="26.11" lengthAdjust="spacingAndGlyphs" stroke="#1a1a1a" stroke-width="0.3">7-mer</text>
<path d="M183.6,146.0 C183.8,142.9 184.1,140.4 186.3,140.4 H200.4 Q202.6,140.4 202.6,138.2 V134.3 M202.6,138.2 Q202.6,140.4 204.8,140.4 H219.3 C221.5,140.4 221.8,142.9 222.0,146.0" fill="none" stroke="#3a3a3a" stroke-width="0.9"/>
<text x="204.6" y="126.0" font-size="9.00" font-weight="normal" fill="#1a1a1a" text-anchor="middle" textLength="26.11" lengthAdjust="spacingAndGlyphs" stroke="#1a1a1a" stroke-width="0.3">8-mer</text>
<text x="360.4" y="35.3" font-size="7.2" font-weight="normal" fill="#222" text-anchor="middle" stroke="#222" stroke-width="0.4">542</text>
<text x="375.4" y="51.8" font-size="7.2" font-weight="normal" fill="#222" text-anchor="middle" stroke="#222" stroke-width="0.4">558</text>
<text x="388.3" y="79.7" font-size="7.2" font-weight="normal" fill="#222" text-anchor="middle" stroke="#222" stroke-width="0.4">574</text>
<text x="436.9" y="118.1" font-size="7.2" font-weight="normal" fill="#222" text-anchor="middle" stroke="#222" stroke-width="0.4">634</text>
<text x="455.9" y="121.5" font-size="7.2" font-weight="normal" fill="#222" text-anchor="middle" stroke="#222" stroke-width="0.4">650</text>
<text x="472.3" y="126.6" font-size="7.2" font-weight="normal" fill="#222" text-anchor="middle" stroke="#222" stroke-width="0.4">666</text>
<text x="518.7" y="146.0" font-size="7.2" font-weight="normal" fill="#222" text-anchor="middle" stroke="#222" stroke-width="0.4">725</text>
<text x="534.0" y="145.0" font-size="7.2" font-weight="normal" fill="#222" text-anchor="middle" stroke="#222" stroke-width="0.4">741</text>
<text x="549.4" y="146.0" font-size="7.2" font-weight="normal" fill="#222" text-anchor="middle" stroke="#222" stroke-width="0.4">757</text>
<path d="M365.6,24.7 L374.4,18.6 L394.8,42.5 Q395.5,43.9 403.6,37.2 M396.1,45.2 Q395.5,43.9 403.6,37.2 M396.1,45.2 L413.7,70.4 L406.2,77.1" fill="none" stroke="#3a3a3a" stroke-width="0.9" stroke-linejoin="round"/>
<text x="423.9" y="44.8" font-size="9.00" font-weight="normal" fill="#1a1a1a" text-anchor="middle" textLength="26.11" lengthAdjust="spacingAndGlyphs" stroke="#1a1a1a" stroke-width="0.3">6-mer</text>
<path d="M434.1,109.6 C434.3,104.8 434.6,100.8 436.8,100.8 H456.3 Q458.5,100.8 458.5,98.6 V90.9 M458.5,98.6 Q458.5,100.8 460.7,100.8 H480.0 C482.2,100.8 482.5,104.8 482.7,109.6" fill="none" stroke="#3a3a3a" stroke-width="0.9"/>
<text x="464.1" y="88.4" font-size="9.00" font-weight="normal" fill="#1a1a1a" text-anchor="middle" textLength="26.11" lengthAdjust="spacingAndGlyphs" stroke="#1a1a1a" stroke-width="0.3">7-mer</text>
<path d="M511.0,138.0 C511.2,132.4 511.5,127.9 513.7,127.9 H532.8 Q535.0,127.9 535.0,125.7 V118.7 M535.0,125.7 Q535.0,127.9 537.2,127.9 H554.8 C557.0,127.9 557.3,132.4 557.5,138.0" fill="none" stroke="#3a3a3a" stroke-width="0.9"/>
<text x="540.5" y="116.0" font-size="9.00" font-weight="normal" fill="#1a1a1a" text-anchor="middle" textLength="26.11" lengthAdjust="spacingAndGlyphs" stroke="#1a1a1a" stroke-width="0.3">8-mer</text>
<text x="70.5" y="238.5" font-size="7.88" fill="#222" text-anchor="middle" textLength="12.26" lengthAdjust="spacingAndGlyphs" stroke="#222" stroke-width="0.42">544</text>
<text x="89.9" y="288.3" font-size="7.88" fill="#222" text-anchor="middle" textLength="12.26" lengthAdjust="spacingAndGlyphs" stroke="#222" stroke-width="0.42">560</text>
<text x="112.1" y="320.8" font-size="7.88" fill="#222" text-anchor="middle" textLength="12.26" lengthAdjust="spacingAndGlyphs" stroke="#222" stroke-width="0.42">576</text>
<text x="181.0" y="277.1" font-size="7.88" fill="#222" text-anchor="middle" textLength="12.26" lengthAdjust="spacingAndGlyphs" stroke="#222" stroke-width="0.42">635</text>
<text x="201.4" y="323.4" font-size="7.88" fill="#222" text-anchor="middle" textLength="12.26" lengthAdjust="spacingAndGlyphs" stroke="#222" stroke-width="0.42">651</text>
<text x="221.9" y="340.7" font-size="7.88" fill="#222" text-anchor="middle" textLength="12.26" lengthAdjust="spacingAndGlyphs" stroke="#222" stroke-width="0.42">667</text>
<text x="299.2" y="346.4" font-size="7.88" fill="#222" text-anchor="middle" textLength="12.26" lengthAdjust="spacingAndGlyphs" stroke="#222" stroke-width="0.42">726</text>
<path d="M74.1,228.0 L82.2,225.8 L106.6,262.4 Q107.2,263.8 116.6,258.9 M107.9,265.1 Q107.2,263.8 116.6,258.9 M107.9,265.1 L139.1,313.1 L131.0,319.3" fill="none" stroke="#3a3a3a" stroke-width="0.9" stroke-linejoin="round"/>
<text x="138.2" y="263.4" font-size="9.27" font-weight="normal" fill="#1a1a1a" text-anchor="middle" textLength="26.89" lengthAdjust="spacingAndGlyphs" stroke="#1a1a1a" stroke-width="0.3">6-mer</text>
<path d="M189.4,268.0 L201.7,262.3 L224.8,290.6 Q225.8,292.5 237.4,285.7 M226.8,294.3 Q225.8,292.5 237.4,285.7 M226.8,294.3 L249.0,323.2 L238.4,332.0" fill="none" stroke="#3a3a3a" stroke-width="0.9" stroke-linejoin="round"/>
<text x="254.5" y="283.7" font-size="9.27" font-weight="normal" fill="#1a1a1a" text-anchor="middle" textLength="26.89" lengthAdjust="spacingAndGlyphs" stroke="#1a1a1a" stroke-width="0.3">7-mer</text>
<text x="297.2" y="317.1" font-size="9.27" font-weight="normal" fill="#1a1a1a" text-anchor="middle" textLength="26.89" lengthAdjust="spacingAndGlyphs" stroke="#1a1a1a" stroke-width="0.3">8-mer</text>
<path d="M295.7,319.6 L298.2,337.3" fill="none" stroke="#3a3a3a" stroke-width="0.9"/>
<path d="M296.0,333.6 L298.2,337.3 L300.1,333.6" fill="none" stroke="#3a3a3a" stroke-width="0.9"/>
<text x="374.0" y="239.0" font-size="6.0" font-weight="normal" fill="#222" text-anchor="middle" stroke="#222" stroke-width="0.3">816</text>
<text x="386.1" y="253.0" font-size="6.0" font-weight="normal" fill="#222" text-anchor="middle" stroke="#222" stroke-width="0.3">832</text>
<text x="423.7" y="287.0" font-size="6.0" font-weight="normal" fill="#222" text-anchor="middle" stroke="#222" stroke-width="0.3">907</text>
<text x="446.0" y="290.0" font-size="6.0" font-weight="normal" fill="#222" text-anchor="middle" stroke="#222" stroke-width="0.3">923</text>
<text x="468.5" y="311.3" font-size="6.0" font-weight="normal" fill="#222" text-anchor="middle" stroke="#222" stroke-width="0.3">998</text>
<text x="490.9" y="311.3" font-size="6.0" font-weight="normal" fill="#222" text-anchor="middle" stroke="#222" stroke-width="0.3">1014</text>
<text x="520.3" y="326.6" font-size="6.0" font-weight="normal" fill="#222" text-anchor="middle" stroke="#222" stroke-width="0.3">1089</text>
<text x="545.0" y="331.6" font-size="6.0" font-weight="normal" fill="#222" text-anchor="middle" stroke="#222" stroke-width="0.3">1105</text>
<path d="M375.3,227.5 L380.6,222.4 L392.6,231.5 Q393.2,232.4 397.9,226.6 M393.9,233.3 Q393.2,232.4 397.9,226.6 M393.9,233.3 L405.8,244.3 L401.2,250.5" fill="none" stroke="#3a3a3a" stroke-width="0.9" stroke-linejoin="round"/>
<text x="418.8" y="228.5" font-size="9.00" font-weight="normal" fill="#1a1a1a" text-anchor="middle" textLength="26.11" lengthAdjust="spacingAndGlyphs" stroke="#1a1a1a" stroke-width="0.3">9-mer</text>
<path d="M417.3,278.7 C417.5,274.0 417.8,270.1 420.0,270.1 H433.8 Q436.0,270.1 436.0,267.9 V262.0 M436.0,267.9 Q436.0,270.1 438.2,270.1 H452.6 C454.8,270.1 455.1,274.0 455.3,278.7" fill="none" stroke="#3a3a3a" stroke-width="0.9"/>
<text x="451.8" y="257.9" font-size="9.00" font-weight="normal" fill="#1a1a1a" text-anchor="middle" textLength="31.67" lengthAdjust="spacingAndGlyphs" stroke="#1a1a1a" stroke-width="0.3">10-mer</text>
<path d="M461.9,304.0 C462.1,300.1 462.4,297.0 464.6,297.0 H478.0 Q480.2,297.0 480.2,294.8 V288.8 M480.2,294.8 Q480.2,297.0 482.4,297.0 H496.8 C499.0,297.0 499.3,300.1 499.5,304.0" fill="none" stroke="#3a3a3a" stroke-width="0.9"/>
<text x="490.1" y="283.8" font-size="9.00" font-weight="normal" fill="#1a1a1a" text-anchor="middle" textLength="30.93" lengthAdjust="spacingAndGlyphs" stroke="#1a1a1a" stroke-width="0.3">11-mer</text>
<path d="M511.7,321.8 C511.9,317.1 512.2,313.3 514.4,313.3 H531.3 Q533.5,313.3 533.5,311.1 V305.0 M533.5,311.1 Q533.5,313.3 535.7,313.3 H553.1 C555.3,313.3 555.6,317.1 555.8,321.8" fill="none" stroke="#3a3a3a" stroke-width="0.9"/>
<text x="543.0" y="296.5" font-size="9.00" font-weight="normal" fill="#1a1a1a" text-anchor="middle" textLength="31.67" lengthAdjust="spacingAndGlyphs" stroke="#1a1a1a" stroke-width="0.3">12-mer</text>
<path d="M424.4,289.8 L424.4,296.4" fill="none" stroke="#3a3a3a" stroke-width="0.8"/>
<path d="M439.6,291.4 L433.0,300.0" fill="none" stroke="#3a3a3a" stroke-width="0.8"/>
<path d="M467.5,315.7 L472.6,325.9" fill="none" stroke="#3a3a3a" stroke-width="0.8"/>
<path d="M488.8,312.7 L484.3,328.0" fill="none" stroke="#3a3a3a" stroke-width="0.8"/>
<path d="M521.8,331.0 L525.9,344.7" fill="none" stroke="#3a3a3a" stroke-width="0.8"/>
<path d="M543.7,332.0 L536.0,344.7" fill="none" stroke="#3a3a3a" stroke-width="0.8"/>
</g></svg>
</body></html>
